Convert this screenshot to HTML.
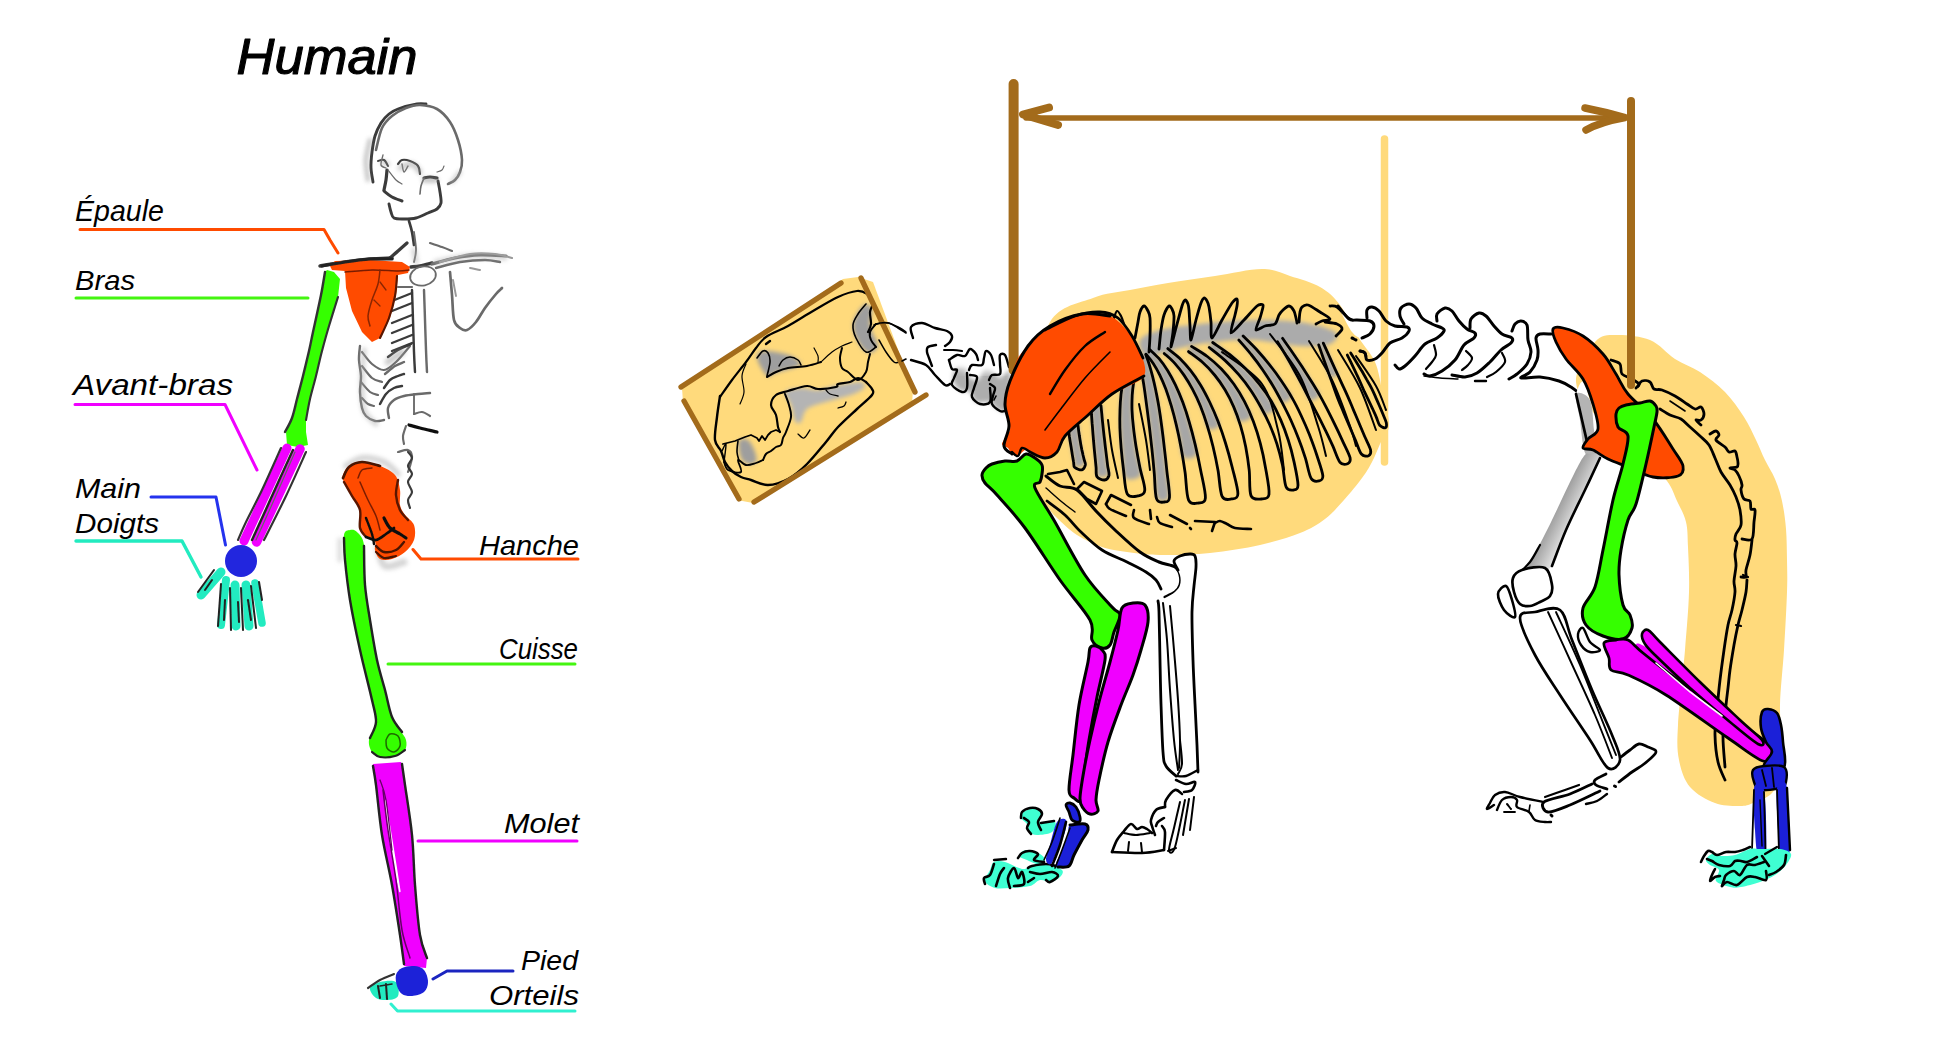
<!DOCTYPE html>
<html lang="fr"><head><meta charset="utf-8"><title>Humain - squelette comparé</title>
<style>
html,body{margin:0;padding:0;background:#fff;overflow:hidden}
svg{display:block}
text{font-family:"Liberation Sans","DejaVu Sans",sans-serif;font-style:italic;fill:#000}
</style></head><body>
<svg width="1937" height="1058" viewBox="0 0 1937 1058">
<defs>
<filter id="b1" x="-20%" y="-20%" width="140%" height="140%"><feGaussianBlur stdDeviation="0.7"/></filter>
<filter id="b2" x="-20%" y="-20%" width="140%" height="140%"><feGaussianBlur stdDeviation="2.2"/></filter>
<filter id="b3" x="-20%" y="-20%" width="140%" height="140%"><feGaussianBlur stdDeviation="4"/></filter>
<linearGradient id="gfem" gradientUnits="userSpaceOnUse" x1="1549" y1="508" x2="1573" y2="520"><stop offset="0" stop-color="#8a8a8a"/><stop offset="0.5" stop-color="#b2b2b2"/><stop offset="1" stop-color="#dedede"/></linearGradient>
</defs>
<rect width="1937" height="1058" fill="#fff"/>
<g id="animal">
<path d="M1050 322C1060.2 305 1079.7 303.3 1093 298C1106.3 292.7 1117.5 292.5 1130 290C1142.5 287.5 1153.8 285.3 1168 283C1182.2 280.7 1199.3 278.3 1215 276C1230.7 273.7 1249.5 269 1262 269C1274.5 269 1280.3 273 1290 276C1299.7 279 1311.7 282.2 1320 287C1328.3 291.8 1333.5 296.5 1340 305C1346.5 313.5 1353.2 328.5 1359 338C1364.8 347.5 1371.2 353.3 1375 362C1378.8 370.7 1379.7 379.5 1382 390C1384.3 400.5 1389.3 416 1389 425C1388.7 434 1382.8 437.8 1380 444C1377.2 450.2 1375 456.3 1372 462C1369 467.7 1366.7 471.7 1362 478C1357.3 484.3 1350.2 493.2 1344 500C1337.8 506.8 1332.3 513.5 1325 519C1317.7 524.5 1310.8 528.7 1300 533C1289.2 537.3 1275 541.7 1260 545C1245 548.3 1226.7 551.3 1210 553C1193.3 554.7 1173.8 555.2 1160 555C1146.2 554.8 1136.7 553.3 1127 552C1117.3 550.7 1110.3 549.8 1102 547C1093.7 544.2 1084.7 540 1077 535C1069.3 530 1061.2 522 1056 517C1050.8 512 1049.3 509.5 1046 505C1042.7 500.5 1038.2 495.8 1036 490C1033.8 484.2 1033.7 485 1033 470C1032.3 455 1029.2 424.7 1032 400C1034.8 375.3 1039.8 339 1050 322Z" fill="#FFDA7C" stroke="none" stroke-width="0" stroke-linejoin="round" />
<path d="M1384.5 139 L1384.5 462" stroke="#FFDA7C" stroke-width="7.5" stroke-linecap="round" fill="none"/>
<path d="M682 388L843 279L858 277L873 282L913 390L912 404L753 503L737 500L683 402Z" fill="#FFDA7C" stroke="none" stroke-width="0" stroke-linejoin="round" />
<path d="M1576 382C1575.2 369 1588.3 349.8 1595 342C1601.7 334.2 1606.8 335.3 1616 335C1625.2 334.7 1640.2 336 1650 340C1659.8 344 1666.7 353.7 1675 359C1683.3 364.3 1691.7 366.5 1700 372C1708.3 377.5 1717.7 384.5 1725 392C1732.3 399.5 1738.8 409 1744 417C1749.2 425 1752.5 432.8 1756 440C1759.5 447.2 1761.8 453.5 1765 460C1768.2 466.5 1772.2 472.2 1775 479C1777.8 485.8 1780.2 492.7 1782 501C1783.8 509.3 1785.2 519.2 1786 529C1786.8 538.8 1786.8 549.5 1787 560C1787.2 570.5 1787.5 577 1787 592C1786.5 607 1785.2 631.2 1784 650C1782.8 668.8 1780.3 690 1780 705C1779.7 720 1781.5 729.2 1782 740C1782.5 750.8 1784.7 761.2 1783 770C1781.3 778.8 1777 787.5 1772 793C1767 798.5 1758.3 800.8 1753 803C1747.7 805.2 1746.3 806 1740 806C1733.7 806 1723.3 806.2 1715 803C1706.7 799.8 1696 794.2 1690 787C1684 779.8 1681 770.3 1679 760C1677 749.7 1677 743.3 1678 725C1679 706.7 1683.2 672.2 1685 650C1686.8 627.8 1688.5 609.2 1689 592C1689.5 574.8 1688.5 558.7 1688 547C1687.5 535.3 1687.8 529.7 1686 522C1684.2 514.3 1680.2 507.8 1677 501C1673.8 494.2 1673.2 489.5 1667 481C1660.8 472.5 1651.2 460.2 1640 450C1628.8 439.8 1610.7 431.3 1600 420C1589.3 408.7 1576.8 395 1576 382Z" fill="#FFDA7C" stroke="none" stroke-width="0" stroke-linejoin="round" />
<g filter="url(#b2)">
<path d="M757 358C756.5 353.8 758.7 351.5 764 351C769.3 350.5 782.8 352.8 789 355C795.2 357.2 800.8 361.7 801 364C801.2 366.3 794.3 367.5 790 369C785.7 370.5 778.8 371.8 775 373C771.2 374.2 770 378.5 767 376C764 373.5 757.5 362.2 757 358Z" fill="#9E9E9E" stroke="none" stroke-width="0" stroke-linejoin="round" />
<path d="M866 304C868.3 303.7 871.3 307 872 310C872.7 313 870 318.3 870 322C870 325.7 870.7 328 872 332C873.3 336 878.7 342.5 878 346C877.3 349.5 871.5 354 868 353C864.5 352 859.5 344.7 857 340C854.5 335.3 852.8 329.7 853 325C853.2 320.3 855.8 315.5 858 312C860.2 308.5 863.7 304.3 866 304Z" fill="#9E9E9E" stroke="none" stroke-width="0" stroke-linejoin="round" />
<path d="M785 392C786.7 389.2 795.5 388.3 801 388C806.5 387.7 811.8 390.5 818 390C824.2 389.5 830.8 386.3 838 385C845.2 383.7 856.7 381.5 861 382C865.3 382.5 865.7 385.8 864 388C862.3 390.2 857.3 392.7 851 395C844.7 397.3 833.3 399.7 826 402C818.7 404.3 811.2 405.7 807 409C802.8 412.3 803 420 801 422C799 424 796.7 423.8 795 421C793.3 418.2 792.7 409.8 791 405C789.3 400.2 783.3 394.8 785 392Z" fill="#B4B4B4" stroke="none" stroke-width="0" stroke-linejoin="round" />
<path d="M739 441C740.2 438 745.3 438.2 748 440C750.7 441.8 753.7 448.3 755 452C756.3 455.7 757.2 460 756 462C754.8 464 750.5 464.7 748 464C745.5 463.3 742.5 461.8 741 458C739.5 454.2 737.8 444 739 441Z" fill="#9E9E9E" stroke="none" stroke-width="0" stroke-linejoin="round" />
</g>
<path d="M720 397C722 394.2 727.7 385.8 732 380C736.3 374.2 742 367.3 746 362C750 356.7 752.7 352.2 756 348C759.3 343.8 760.7 340.7 766 337C771.3 333.3 780.2 330.3 788 326C795.8 321.7 804.7 315.8 813 311C821.3 306.2 830.7 300.3 838 297C845.3 293.7 852.2 291.5 857 291C861.8 290.5 864.3 292.2 867 294C869.7 295.8 872.5 299 873 302C873.5 305 870.3 308.3 870 312C869.7 315.7 871.3 320.7 871 324C870.7 327.3 868.5 330.7 868 332" fill="none" stroke="#000" stroke-width="2.2" stroke-linecap="round" stroke-linejoin="round" />
<path d="M876 324C875 325.3 870.8 329.3 870 332C869.2 334.7 870 337.5 871 340C872 342.5 875.2 345.8 876 347" fill="none" stroke="#000" stroke-width="2" stroke-linecap="round" stroke-linejoin="round" />
<path d="M866 304C864.7 305.7 860.2 310.5 858 314C855.8 317.5 853.3 321 853 325C852.7 329 853.8 333.5 856 338C858.2 342.5 862.7 350.5 866 352C869.3 353.5 874.3 347.8 876 347" fill="none" stroke="#000" stroke-width="1.6" stroke-linecap="round" stroke-linejoin="round" />
<path d="M876 324C878 323.8 884 322.3 888 323C892 323.7 897 326.5 900 328C903 329.5 905 331.3 906 332" fill="none" stroke="#000" stroke-width="1.5" stroke-linecap="round" stroke-linejoin="round" />
<path d="M879 340C880.2 342 883.5 348.3 886 352C888.5 355.7 891.7 360.3 894 362C896.3 363.7 899 362 900 362" fill="none" stroke="#000" stroke-width="1.5" stroke-linecap="round" stroke-linejoin="round" />
<path d="M720 396C719.5 399.5 717.8 409.7 717 417C716.2 424.3 714.3 434.3 715 440C715.7 445.7 719.3 447.3 721 451C722.7 454.7 723.2 458.7 725 462C726.8 465.3 729.3 468.5 732 471C734.7 473.5 737.8 475.5 741 477C744.2 478.5 746.5 478.7 751 480C755.5 481.3 761.8 485.2 768 485C774.2 484.8 781.5 482.5 788 479C794.5 475.5 800.7 470.2 807 464C813.3 457.8 820.8 448.2 826 442C831.2 435.8 832.8 432.5 838 427C843.2 421.5 851.3 414.3 857 409C862.7 403.7 869.5 398.3 872 395C874.5 391.7 873 391.2 872 389C871 386.8 867 383.2 866 382" fill="none" stroke="#000" stroke-width="2.4" stroke-linecap="round" stroke-linejoin="round" />
<path d="M866 382C864.7 381.3 860.7 378 858 378C855.3 378 853.3 381 850 382C846.7 383 840.3 383.2 838 384C835.7 384.8 839.3 386.2 836 387C832.7 387.8 822.8 389.2 818 389C813.2 388.8 812 385.7 807 386C802 386.3 793.2 389.5 788 391C782.8 392.5 778.8 392.7 776 395C773.2 397.3 771 401.7 771 405C771 408.3 774.8 411.3 776 415C777.2 418.7 777.3 424.2 778 427C778.7 429.8 779.7 431.2 780 432" fill="none" stroke="#000" stroke-width="2.2" stroke-linecap="round" stroke-linejoin="round" />
<path d="M785 394C785.7 395.8 788 401.2 789 405C790 408.8 791.5 412.5 791 417C790.5 421.5 787.3 428.5 786 432C784.7 435.5 783.8 435.8 783 438C782.2 440.2 782.2 443.5 781 445C779.8 446.5 777.7 446 776 447C774.3 448 772.7 449.8 771 451C769.3 452.2 767.3 452.5 766 454C764.7 455.5 763.5 459 763 460" fill="none" stroke="#000" stroke-width="2" stroke-linecap="round" stroke-linejoin="round" />
<path d="M723 444L735 441L745 437L751 435L757 438L759 441L762 436L765 440L768 435L771 432L776 430L780 432" fill="none" stroke="#000" stroke-width="1.8" stroke-linecap="round" stroke-linejoin="round" />
<path d="M724 462C724.7 463.3 725.2 468.3 728 470C730.8 471.7 739.3 473.7 741 472C742.7 470.3 737.2 461.2 738 460C738.8 458.8 743 464.5 746 465C749 465.5 753.2 463.8 756 463C758.8 462.2 761.8 460.5 763 460" fill="none" stroke="#000" stroke-width="1.8" stroke-linecap="round" stroke-linejoin="round" />
<path d="M738 441C737.8 442.8 736.8 448.7 737 452C737.2 455.3 738.7 459.5 739 461" fill="none" stroke="#000" stroke-width="1.6" stroke-linecap="round" stroke-linejoin="round" />
<path d="M722 451C722.7 449.8 725.7 442.2 726 444C726.3 445.8 724.3 459 724 462" fill="none" stroke="#000" stroke-width="1.4" stroke-linecap="round" stroke-linejoin="round" />
<path d="M767 377C768.5 376.2 772.5 373.5 776 372C779.5 370.5 782.8 369 788 368C793.2 367 801.5 367 807 366C812.5 365 818.7 362.7 821 362" fill="none" stroke="#000" stroke-width="2" stroke-linecap="round" stroke-linejoin="round" />
<path d="M757 358C758 356.8 761.2 351.8 763 351C764.8 350.2 766.8 351.2 768 353C769.2 354.8 770.2 358.2 770 362C769.8 365.8 767.5 373.7 767 376" fill="none" stroke="#000" stroke-width="1.6" stroke-linecap="round" stroke-linejoin="round" />
<path d="M779 366C779.7 365 781.2 361.5 783 360C784.8 358.5 787.5 357 790 357C792.5 357 796.2 358.7 798 360C799.8 361.3 800.5 364.2 801 365" fill="none" stroke="#000" stroke-width="1.5" stroke-linecap="round" stroke-linejoin="round" />
<path d="M766 344C766.7 343.5 769.3 341.5 770 341" fill="none" stroke="#000" stroke-width="2.4" stroke-linecap="round" stroke-linejoin="round" />
<path d="M821 362C822.8 360.3 828.5 354.7 832 352C835.5 349.3 838.7 347.7 842 346C845.3 344.3 850.3 342.7 852 342" fill="none" stroke="#000" stroke-width="1.2" stroke-linecap="round" stroke-linejoin="round" />
<path d="M842 348C841.7 349.7 840 354.7 840 358C840 361.3 840.7 365.7 842 368C843.3 370.3 845.3 370 848 372C850.7 374 855 380 858 380C861 380 864.3 375 866 372C867.7 369 867.3 365 868 362C868.7 359 869.7 355.3 870 354" fill="none" stroke="#000" stroke-width="2" stroke-linecap="round" stroke-linejoin="round" />
<path d="M814 348C814.7 349.3 817.3 353.7 818 356C818.7 358.3 818 361 818 362" fill="none" stroke="#000" stroke-width="1.2" stroke-linecap="round" stroke-linejoin="round" />
<path d="M746 364C745.3 366 742.3 371.3 742 376C741.7 380.7 744.3 387.3 744 392C743.7 396.7 740.7 402 740 404" fill="none" stroke="#000" stroke-width="1.2" stroke-linecap="round" stroke-linejoin="round" />
<path d="M826 390C826.7 390.7 828 393 830 394C832 395 836.7 395.7 838 396" fill="none" stroke="#000" stroke-width="1.3" stroke-linecap="round" stroke-linejoin="round" />
<path d="M838 408C839 407.7 842.7 407 844 406C845.3 405 845.7 402.7 846 402" fill="none" stroke="#000" stroke-width="1.3" stroke-linecap="round" stroke-linejoin="round" />
<path d="M798 434C799 434.7 802 438.7 804 438C806 437.3 809 431.3 810 430" fill="none" stroke="#000" stroke-width="1.3" stroke-linecap="round" stroke-linejoin="round" />
<line x1="681" y1="387" x2="841" y2="283" stroke="#A36B1B" stroke-width="5.3" stroke-linecap="round"/>
<line x1="861" y1="278" x2="915" y2="392" stroke="#A36B1B" stroke-width="5.3" stroke-linecap="round"/>
<line x1="754" y1="502" x2="926" y2="395" stroke="#A36B1B" stroke-width="5.3" stroke-linecap="round"/>
<line x1="684" y1="401" x2="739" y2="499" stroke="#A36B1B" stroke-width="5.3" stroke-linecap="round"/>
<g filter="url(#b2)">
<path d="M956 368C958.2 365.7 964 364.7 966 366C968 367.3 966 373.7 968 376C970 378.3 975 381.7 978 380C981 378.3 983.3 367.3 986 366C988.7 364.7 991.7 370 994 372C996.3 374 997.3 378 1000 378C1002.7 378 1008.7 366.7 1010 372C1011.3 377.3 1010.3 404 1008 410C1005.7 416 999 409.3 996 408C993 406.7 993.3 403 990 402C986.7 401 979.3 403.7 976 402C972.7 400.3 972.7 394 970 392C967.3 390 962.8 392 960 390C957.2 388 953.7 383.7 953 380C952.3 376.3 953.8 370.3 956 368Z" fill="#ADADAD" stroke="none" stroke-width="0" stroke-linejoin="round" />
</g>
<g filter="url(#b3)">
<path d="M958 358C965 356.3 993 355.7 1000 358C1007 360.3 1007 370.3 1000 372C993 373.7 965 370.3 958 368C951 365.7 951 359.7 958 358Z" fill="#fff" stroke="none" stroke-width="0" stroke-linejoin="round" />
</g>
<path d="M874 325C875 324.7 877.5 323.3 880 323C882.5 322.7 886 322.2 889 323C892 323.8 895.2 326.3 898 328C900.8 329.7 904.7 332.2 906 333" fill="none" stroke="#000" stroke-width="1.6" stroke-linecap="round" stroke-linejoin="round" />
<path d="M913 338C912.7 336.2 909.5 329.5 911 327C912.5 324.5 918 322.8 922 323C926 323.2 930.8 326.7 935 328C939.2 329.3 944.2 329.7 947 331C949.8 332.3 951.5 334.2 952 336C952.5 337.8 951.2 340.3 950 342C948.8 343.7 945.8 345.3 945 346" fill="none" stroke="#000" stroke-width="2.4" stroke-linecap="round" stroke-linejoin="round" />
<path d="M944 350C945.5 350 950 349.8 953 350C956 350.2 960.5 350.8 962 351" fill="none" stroke="#000" stroke-width="2" stroke-linecap="round" stroke-linejoin="round" />
<path d="M911 360C913.5 360.8 922 362.5 926 365C930 367.5 931.8 371.7 935 375C938.2 378.3 942.5 383.5 945 385C947.5 386.5 949.2 384.2 950 384" fill="none" stroke="#000" stroke-width="2.4" stroke-linecap="round" stroke-linejoin="round" />
<path d="M936 345C934.7 345.3 929.5 345.8 928 347C926.5 348.2 926.8 350.2 927 352C927.2 353.8 928.2 355.7 929 358C929.8 360.3 931.5 364.7 932 366" fill="none" stroke="#000" stroke-width="2.4" stroke-linecap="round" stroke-linejoin="round" />
<path d="M902 361C902.7 360.7 905.3 359.3 906 359" fill="none" stroke="#000" stroke-width="1.6" stroke-linecap="round" stroke-linejoin="round" />
<path d="M949 360C950.3 359.2 954.3 355.7 957 355C959.7 354.3 962.8 357 965 356C967.2 355 968.2 349.3 970 349C971.8 348.7 974.7 352.2 976 354C977.3 355.8 977.7 359 978 360" fill="none" stroke="#000" stroke-width="2.4" stroke-linecap="round" stroke-linejoin="round" />
<path d="M949 360C949.5 361.5 950.7 367.3 952 369C953.3 370.7 956.7 368.5 957 370C957.3 371.5 954.8 375.5 954 378C953.2 380.5 950.7 382.7 952 385C953.3 387.3 959.5 391.5 962 392C964.5 392.5 966.2 391.2 967 388C967.8 384.8 967 375.5 967 373" fill="none" stroke="#000" stroke-width="2.4" stroke-linecap="round" stroke-linejoin="round" />
<path d="M969 370C969.5 369.2 969.8 365.8 972 365C974.2 364.2 980 366.2 982 365C984 363.8 983.3 360.3 984 358C984.7 355.7 984.8 351.5 986 351C987.2 350.5 989.7 352.7 991 355C992.3 357.3 993.5 363.3 994 365" fill="none" stroke="#000" stroke-width="2.4" stroke-linecap="round" stroke-linejoin="round" />
<path d="M970 375C971.2 375.3 976.3 374.8 977 377C977.7 379.2 974.8 384.7 974 388C973.2 391.3 971 394.3 972 397C973 399.7 977 403.2 980 404C983 404.8 988.3 404.7 990 402C991.7 399.3 990 390.3 990 388" fill="none" stroke="#000" stroke-width="2.4" stroke-linecap="round" stroke-linejoin="round" />
<path d="M989 380C989.5 379.2 990.2 376 992 375C993.8 374 998.7 375.8 1000 374C1001.3 372.2 1000 367.2 1000 364C1000 360.8 999.2 356.5 1000 355C1000.8 353.5 1003.5 353 1005 355C1006.5 357 1008.3 365 1009 367" fill="none" stroke="#000" stroke-width="2.4" stroke-linecap="round" stroke-linejoin="round" />
<path d="M990 384C990.8 384.7 994.5 386 995 388C995.5 390 993.5 393.3 993 396C992.5 398.7 990.8 401.5 992 404C993.2 406.5 997.8 409.8 1000 411C1002.2 412.2 1004.2 411 1005 411" fill="none" stroke="#000" stroke-width="2.4" stroke-linecap="round" stroke-linejoin="round" />
<path d="M996 396C995.7 396.7 994.3 399.3 994 400" fill="none" stroke="#000" stroke-width="1.6" stroke-linecap="round" stroke-linejoin="round" />
<g filter="url(#b2)">
<path d="M1067.5 426.7C1065.9 427.8 1068.1 430 1068.3 431.7C1068.6 433.4 1068.9 435.1 1069.2 436.8C1069.5 438.5 1069.8 440.1 1070.1 441.8C1070.4 443.5 1070.8 445.2 1071.1 446.9C1071.4 448.5 1071.7 450.2 1072 451.9C1072.3 453.6 1072.7 455.3 1073 457C1073.3 458.7 1073.7 460.3 1074.1 462C1074.4 463.7 1073.4 466.6 1075.2 467.1C1077 467.6 1083.4 466.1 1084.8 464.9C1086.3 463.7 1084.1 461.6 1083.8 460C1083.4 458.3 1083.1 456.7 1082.8 455C1082.4 453.4 1082.1 451.7 1081.8 450.1C1081.5 448.4 1081.2 446.8 1080.9 445.1C1080.7 443.5 1080.4 441.8 1080.2 440.2C1080 438.5 1079.8 436.9 1079.6 435.2C1079.4 433.6 1079.2 431.9 1079 430.3C1078.8 428.6 1080.4 425.9 1078.5 425.3C1076.6 424.7 1069.2 425.6 1067.5 426.7Z" fill="#A6A6A6" stroke="none" stroke-width="0" stroke-linejoin="round" />
<path d="M1090.5 406.4C1088.8 407.9 1090.9 412 1091.2 414.8C1091.4 417.6 1091.6 420.4 1091.9 423.2C1092.1 426.1 1092.4 428.9 1092.7 431.8C1093 434.7 1093.2 437.6 1093.5 440.5C1093.8 443.5 1094.1 446.4 1094.5 449.4C1094.8 452.4 1095.1 455.3 1095.5 458.4C1095.8 461.4 1096.2 464.4 1096.5 467.4C1096.9 470.5 1095.7 475.3 1097.6 476.7C1099.6 478 1106.8 477.1 1108.4 475.3C1110 473.6 1107.6 469.2 1107.3 466.2C1107 463.2 1106.6 460.1 1106.3 457.1C1106 454.2 1105.7 451.2 1105.4 448.2C1105 445.3 1104.8 442.4 1104.5 439.5C1104.2 436.5 1103.9 433.7 1103.6 430.8C1103.4 427.9 1103.1 425.1 1102.9 422.3C1102.6 419.4 1102.4 416.6 1102.1 413.9C1101.9 411.1 1103.4 406.8 1101.5 405.6C1099.5 404.3 1092.2 404.9 1090.5 406.4Z" fill="#A6A6A6" stroke="none" stroke-width="0" stroke-linejoin="round" />
<path d="M1131.8 359.3C1129.7 359.9 1128.5 364.9 1127.1 368.1C1125.7 371.3 1124.6 374.8 1123.6 378.6C1122.7 382.4 1121.9 386.5 1121.3 390.8C1120.7 395.2 1120.4 399.8 1120.1 404.8C1119.9 409.7 1119.8 414.9 1119.9 420.4C1120 425.9 1120.2 431.7 1120.7 437.8C1121.1 443.9 1121.7 450.3 1122.5 457C1123.3 463.7 1122.4 474.9 1125.4 478C1128.4 481 1138.8 479.1 1140.7 475.2C1142.6 471.4 1138 461.4 1136.9 455C1135.8 448.5 1134.9 442.3 1134.2 436.5C1133.5 430.6 1132.9 425.1 1132.5 419.9C1132.2 414.6 1132 409.7 1132 405.1C1132 400.4 1132.2 396.1 1132.6 392.1C1133 388.1 1133.5 384.4 1134.2 381.1C1134.9 377.7 1135.8 374.7 1136.8 371.9C1137.7 369.2 1141 366.8 1140.2 364.7C1139.3 362.6 1134 358.7 1131.8 359.3Z" fill="#A6A6A6" stroke="none" stroke-width="0" stroke-linejoin="round" />
<path d="M1137.8 357.4C1136.9 359.5 1139.4 363.2 1140.2 366.7C1141 370.1 1141.8 374 1142.5 378.3C1143.3 382.6 1144.1 387.3 1144.8 392.4C1145.6 397.5 1146.3 403 1147.1 408.9C1147.9 414.8 1148.8 421 1149.7 427.7C1150.5 434.4 1151.4 441.4 1152.2 448.9C1153.1 456.4 1153.9 464.2 1154.7 472.5C1155.6 480.8 1154.8 494.3 1157.2 498.5C1159.5 502.7 1167.3 502 1168.8 497.5C1170.4 493 1167.3 479.7 1166.5 471.4C1165.7 463 1164.8 455.1 1164 447.6C1163.2 440.1 1162.4 432.9 1161.5 426.2C1160.7 419.4 1159.9 413.1 1158.9 407.1C1158 401.2 1156.9 395.6 1155.9 390.5C1154.8 385.3 1153.8 380.6 1152.7 376.2C1151.6 371.8 1150.6 367.8 1149.5 364.2C1148.4 360.6 1148.1 355.7 1146.2 354.6C1144.2 353.4 1138.8 355.4 1137.8 357.4Z" fill="#A6A6A6" stroke="none" stroke-width="0" stroke-linejoin="round" />
<path d="M1145.8 354.4C1146 356.4 1149.7 358.8 1151.5 361.4C1153.4 364 1155.2 366.8 1157 370C1158.7 373.1 1160.4 376.5 1162.1 380.2C1163.7 383.9 1165.3 387.9 1166.9 392.2C1168.4 396.5 1169.8 401.1 1171.3 405.9C1172.8 410.7 1174.2 415.8 1175.6 421.2C1177 426.7 1178.3 432.3 1179.6 438.3C1180.9 444.3 1180.3 454.5 1183.2 457.2C1186.1 459.9 1195.4 458.2 1196.9 454.5C1198.5 450.9 1194.1 441.5 1192.6 435.3C1191 429.2 1189.5 423.4 1187.8 417.9C1186.2 412.3 1184.5 407.1 1182.7 402.1C1180.9 397.1 1178.9 392.5 1177 388.1C1175 383.7 1173 379.6 1170.9 375.8C1168.8 372 1166.6 368.5 1164.4 365.3C1162.2 362.1 1159.9 359.2 1157.5 356.5C1155.1 353.9 1152.2 349.9 1150.2 349.6C1148.3 349.2 1145.6 352.5 1145.8 354.4Z" fill="#A6A6A6" stroke="none" stroke-width="0" stroke-linejoin="round" />
<path d="M1164 353.7C1164.5 355.5 1168.7 357.5 1170.9 359.7C1173.1 361.8 1175.2 364.1 1177.3 366.6C1179.4 369.1 1181.5 371.8 1183.5 374.6C1185.4 377.4 1187.4 380.3 1189.2 383.5C1191.1 386.6 1192.9 389.9 1194.6 393.4C1196.4 396.8 1198.1 400.5 1199.7 404.3C1201.3 408.1 1202.8 412 1204.3 416.2C1205.8 420.3 1206.1 427.5 1208.6 429.1C1211.1 430.7 1218.4 428.3 1219.3 425.5C1220.3 422.7 1216 416.6 1214.2 412.3C1212.4 408.1 1210.6 404.1 1208.7 400.2C1206.8 396.3 1204.9 392.5 1202.9 389C1200.9 385.4 1198.8 382 1196.7 378.8C1194.5 375.6 1192.3 372.5 1190.1 369.6C1187.8 366.7 1185.5 364 1183.1 361.5C1180.7 359 1178.2 356.6 1175.7 354.4C1173.2 352.2 1169.9 348.5 1168 348.3C1166 348.2 1163.6 351.8 1164 353.7Z" fill="#A6A6A6" stroke="none" stroke-width="0" stroke-linejoin="round" />
<path d="M1188.3 351.8C1189.2 353.8 1194.2 355.8 1197 358C1199.7 360.1 1202.4 362.4 1204.9 364.8C1207.5 367.2 1209.9 369.7 1212.2 372.4C1214.6 375.1 1216.8 377.8 1218.9 380.7C1221 383.6 1223 386.6 1224.9 389.8C1226.8 392.9 1228.6 396.2 1230.3 399.6C1232 403 1233.6 406.5 1235.1 410.2C1236.7 413.8 1236.7 420.4 1239.4 421.5C1242.1 422.7 1250.3 419.8 1251.5 417.1C1252.6 414.4 1248.1 409 1246.3 405.2C1244.4 401.4 1242.5 397.7 1240.4 394.1C1238.3 390.6 1236.1 387.2 1233.8 384C1231.5 380.7 1229.1 377.6 1226.6 374.6C1224.1 371.7 1221.5 368.9 1218.8 366.2C1216.1 363.5 1213.3 361 1210.3 358.6C1207.4 356.3 1204.4 354 1201.3 351.9C1198.2 349.9 1193.8 346.2 1191.7 346.2C1189.5 346.1 1187.4 349.9 1188.3 351.8Z" fill="#A6A6A6" stroke="none" stroke-width="0" stroke-linejoin="round" />
<path d="M1209.1 347.7C1210 349.8 1215.2 352.3 1218 354.7C1220.9 357 1223.7 359.5 1226.4 362C1229 364.5 1231.6 367.1 1234.1 369.7C1236.6 372.3 1239 375 1241.3 377.8C1243.6 380.5 1245.8 383.4 1247.9 386.3C1250 389.2 1252 392.1 1253.9 395.1C1255.8 398.2 1257.6 401.3 1259.4 404.4C1261.2 407.5 1262 413.2 1264.6 413.9C1267.3 414.6 1274.4 411 1275.2 408.4C1276 405.8 1271.6 401.6 1269.5 398.3C1267.5 395.1 1265.3 392 1263 388.9C1260.8 385.8 1258.4 382.8 1256 379.9C1253.6 377 1251 374.2 1248.4 371.4C1245.8 368.7 1243.1 366 1240.3 363.4C1237.5 360.8 1234.6 358.3 1231.7 355.9C1228.7 353.5 1225.7 351.1 1222.5 348.8C1219.4 346.6 1215.1 342.5 1212.9 342.3C1210.6 342.1 1208.3 345.7 1209.1 347.7Z" fill="#A6A6A6" stroke="none" stroke-width="0" stroke-linejoin="round" />
<path d="M1238.7 340.3C1238.9 342.3 1242.9 345 1245 347.4C1247.1 349.7 1249.1 352.1 1251.1 354.6C1253.1 357.1 1255 359.5 1256.9 362.1C1258.8 364.6 1260.7 367.2 1262.5 369.7C1264.3 372.3 1266 375 1267.8 377.6C1269.5 380.3 1271.2 383 1272.8 385.8C1274.5 388.5 1276.1 391.3 1277.6 394.1C1279.2 396.9 1279.8 402.1 1282.2 402.6C1284.5 403.2 1291.1 399.7 1291.8 397.4C1292.6 395 1288.4 391.6 1286.6 388.8C1284.8 385.9 1283 383.2 1281.2 380.4C1279.3 377.7 1277.4 375 1275.5 372.3C1273.5 369.7 1271.6 367.1 1269.5 364.5C1267.5 361.9 1265.5 359.4 1263.3 356.9C1261.2 354.4 1259.1 352 1256.9 349.6C1254.7 347.2 1252.5 344.8 1250.3 342.5C1248 340.2 1245.3 336 1243.3 335.7C1241.4 335.3 1238.4 338.4 1238.7 340.3Z" fill="#A6A6A6" stroke="none" stroke-width="0" stroke-linejoin="round" />
<path d="M1277.3 341.8C1277.1 343.6 1280.2 346.6 1281.7 349C1283.1 351.4 1284.5 353.8 1286 356.2C1287.4 358.6 1288.8 361 1290.2 363.5C1291.6 365.9 1293 368.3 1294.4 370.8C1295.7 373.2 1297.1 375.7 1298.4 378.1C1299.8 380.6 1301.1 383.1 1302.4 385.6C1303.7 388.1 1305 390.6 1306.3 393.1C1307.6 395.6 1307.9 400.2 1310.2 400.6C1312.4 401 1319 397.5 1319.8 395.4C1320.7 393.3 1316.9 390.4 1315.5 388C1314 385.5 1312.5 383.1 1311 380.7C1309.5 378.2 1308 375.8 1306.5 373.4C1305 371 1303.4 368.6 1301.9 366.2C1300.3 363.8 1298.8 361.5 1297.2 359.1C1295.6 356.7 1294.1 354.4 1292.5 352.1C1290.9 349.7 1289.3 347.4 1287.6 345.1C1286 342.8 1284.5 338.7 1282.7 338.2C1281 337.6 1277.4 340 1277.3 341.8Z" fill="#A6A6A6" stroke="none" stroke-width="0" stroke-linejoin="round" />
<path d="M1318.4 345C1317.8 346 1319.4 347.8 1319.9 349.1C1320.4 350.5 1320.9 351.9 1321.4 353.2C1321.9 354.6 1322.4 356 1322.8 357.4C1323.3 358.7 1323.8 360.1 1324.3 361.5C1324.8 362.9 1325.3 364.2 1325.8 365.6C1326.3 367 1326.8 368.3 1327.3 369.7C1327.8 371.1 1328.3 372.5 1328.8 373.8C1329.3 375.2 1328.8 377.8 1330.3 378C1331.8 378.1 1336.9 376 1337.9 374.8C1338.8 373.7 1336.7 372.2 1336.1 370.9C1335.5 369.5 1334.9 368.2 1334.3 366.9C1333.7 365.6 1333.1 364.2 1332.5 362.9C1331.9 361.6 1331.3 360.2 1330.7 358.9C1330.1 357.6 1329.5 356.3 1328.9 354.9C1328.3 353.6 1327.7 352.3 1327.1 351C1326.5 349.6 1325.9 348.3 1325.3 347C1324.7 345.6 1324.7 343.3 1323.6 343C1322.4 342.7 1319.1 344 1318.4 345Z" fill="#A6A6A6" stroke="none" stroke-width="0" stroke-linejoin="round" />
</g>
<g filter="url(#b2)">
<path d="M1140 340C1142.5 335.7 1150 332.7 1160 330C1170 327.3 1185 325.7 1200 324C1215 322.3 1233.3 320.3 1250 320C1266.7 319.7 1285.8 320 1300 322C1314.2 324 1330 328.3 1335 332C1340 335.7 1335.8 341.7 1330 344C1324.2 346.3 1313.3 346.7 1300 346C1286.7 345.3 1266.7 340.3 1250 340C1233.3 339.7 1214.2 342 1200 344C1185.8 346 1174.2 350 1165 352C1155.8 354 1149.2 358 1145 356C1140.8 354 1137.5 344.3 1140 340Z" fill="#ABABAB" stroke="none" stroke-width="0" stroke-linejoin="round" />
</g>
<path d="M1068 426.6C1068.1 427.5 1068.5 430 1068.7 431.7C1068.9 433.4 1069.2 435.1 1069.4 436.7C1069.7 438.4 1069.9 440.1 1070.2 441.8C1070.5 443.5 1070.8 445.2 1071.1 446.9C1071.3 448.6 1071.6 450.2 1071.9 451.9C1072.1 453.6 1072.4 455.3 1072.7 457C1073 458.7 1073.3 460.4 1073.6 462.1C1074 463.8 1073.3 465.9 1074.6 467.2C1076 468.5 1080.1 470.3 1081.9 469.9C1083.7 469.5 1085 466.5 1085.4 464.8C1085.7 463.1 1084.6 461.5 1084.2 459.9C1083.8 458.2 1083.4 456.6 1083 455C1082.7 453.3 1082.3 451.7 1081.9 450.1C1081.6 448.4 1081.2 446.8 1080.9 445.1C1080.6 443.5 1080.4 441.8 1080.1 440.2C1079.8 438.6 1079.6 436.9 1079.3 435.3C1079.1 433.6 1078.8 432 1078.6 430.3C1078.4 428.7 1078.1 426.2 1078 425.4" fill="none" stroke="#000" stroke-width="2.8" stroke-linecap="round" stroke-linejoin="round"/>
<path d="M1091 406.4C1091.1 407.8 1091.4 411.9 1091.5 414.7C1091.7 417.5 1091.9 420.4 1092.1 423.2C1092.4 426.1 1092.6 428.9 1092.8 431.8C1093 434.7 1093.3 437.6 1093.5 440.5C1093.8 443.5 1094 446.4 1094.3 449.4C1094.6 452.4 1094.9 455.4 1095.2 458.4C1095.5 461.4 1095.8 464.4 1096.1 467.5C1096.4 470.5 1095.6 474.6 1097 476.7C1098.4 478.8 1102.5 480.2 1104.5 480C1106.5 479.7 1108.4 477.6 1109 475.3C1109.5 473 1108.1 469.2 1107.7 466.1C1107.3 463.1 1107 460.1 1106.6 457.1C1106.2 454.1 1105.9 451.2 1105.5 448.2C1105.1 445.3 1104.8 442.4 1104.5 439.5C1104.1 436.6 1103.8 433.7 1103.5 430.8C1103.2 427.9 1102.9 425.1 1102.6 422.3C1102.3 419.5 1102 416.7 1101.8 413.9C1101.5 411.1 1101.1 407 1101 405.6" fill="none" stroke="#000" stroke-width="2.8" stroke-linecap="round" stroke-linejoin="round"/>
<path d="M1132.2 359.6C1131.4 361.1 1128.5 365.6 1127.1 369.1C1125.6 372.6 1124.4 376.5 1123.4 380.7C1122.4 384.9 1121.6 389.4 1121 394.3C1120.5 399.2 1120.2 404.4 1120 410C1119.8 415.6 1119.7 421.5 1119.9 427.8C1120.1 434 1120.5 440.7 1121.1 447.7C1121.7 454.6 1122.5 462 1123.5 469.7C1124.5 477.3 1124.8 489.4 1127.2 493.8C1129.6 498.2 1134.9 496.5 1137.8 495.9C1140.7 495.3 1144.5 495 1144.8 490.2C1145.2 485.4 1141.2 474.4 1139.8 467C1138.3 459.6 1137 452.5 1135.9 445.8C1134.9 439.2 1134 432.8 1133.4 426.9C1132.7 420.9 1132.2 415.3 1132 410C1131.8 404.7 1132 399.8 1132.2 395.3C1132.5 390.8 1133 386.6 1133.6 382.8C1134.3 379 1135.2 375.6 1136.2 372.5C1137.2 369.5 1139.2 365.8 1139.8 364.4" fill="none" stroke="#000" stroke-width="2.8" stroke-linecap="round" stroke-linejoin="round"/>
<path d="M1138.2 357.3C1138.6 358.9 1139.7 363.1 1140.5 366.6C1141.2 370.1 1142 374 1142.7 378.3C1143.5 382.6 1144.2 387.3 1144.9 392.4C1145.6 397.5 1146.3 403 1147.1 408.9C1147.8 414.8 1148.7 421 1149.5 427.7C1150.3 434.4 1151.1 441.5 1151.9 448.9C1152.7 456.4 1153.5 464.3 1154.2 472.6C1155 480.8 1154.8 493.7 1156.5 498.6C1158.2 503.5 1162.2 502.2 1164.3 502C1166.5 501.8 1169 502.5 1169.5 497.4C1169.9 492.3 1167.8 479.6 1166.9 471.3C1166.1 463 1165.2 455.1 1164.3 447.6C1163.5 440 1162.6 432.9 1161.7 426.2C1160.8 419.4 1159.9 413.1 1158.9 407.1C1158 401.2 1156.8 395.6 1155.8 390.5C1154.7 385.3 1153.6 380.6 1152.5 376.2C1151.4 371.8 1150.3 367.9 1149.2 364.3C1148.1 360.7 1146.3 356.3 1145.8 354.7" fill="none" stroke="#000" stroke-width="2.8" stroke-linecap="round" stroke-linejoin="round"/>
<path d="M1146 354.2C1147.2 355.7 1150.8 359.8 1153.1 363.2C1155.4 366.7 1157.6 370.5 1159.7 374.8C1161.8 379.1 1163.8 383.8 1165.8 389C1167.7 394.2 1169.5 399.8 1171.3 405.9C1173.1 412 1174.8 418.5 1176.4 425.4C1178.1 432.4 1179.6 439.8 1181 447.6C1182.5 455.5 1183.8 463.8 1185.1 472.5C1186.3 481.3 1186.3 495 1188.6 500.1C1190.8 505.2 1195.7 503.3 1198.5 503C1201.3 502.6 1205.1 503.4 1205.4 497.9C1205.8 492.4 1202.3 478.8 1200.6 469.9C1198.9 461 1197.1 452.6 1195.2 444.6C1193.3 436.7 1191.3 429.1 1189.2 422C1187.2 414.9 1185 408.3 1182.7 402.1C1180.4 395.9 1177.9 390.2 1175.4 384.9C1172.9 379.6 1170.3 374.8 1167.6 370.4C1164.8 366.1 1162 362.1 1159.1 358.7C1156.2 355.3 1151.5 351.3 1150 349.8" fill="none" stroke="#000" stroke-width="2.8" stroke-linecap="round" stroke-linejoin="round"/>
<path d="M1164.2 353.4C1165.9 355 1171.3 359.5 1174.6 363.1C1177.9 366.8 1181 370.7 1184 375.1C1187 379.5 1189.9 384.3 1192.6 389.4C1195.4 394.6 1198 400.1 1200.4 406C1202.8 412 1205 418.3 1207.1 425.1C1209.2 431.8 1211.2 439 1213 446.5C1214.8 454 1216.5 461.9 1218 470.2C1219.5 478.5 1219.8 491.5 1222.1 496.3C1224.4 501.1 1229 499.4 1231.6 498.9C1234.3 498.5 1237.8 499 1237.9 493.7C1238 488.4 1234.2 475.6 1232.2 467.2C1230.1 458.7 1227.9 450.7 1225.5 443C1223.2 435.4 1220.6 428.1 1218 421.3C1215.3 414.4 1212.5 408 1209.6 402C1206.6 395.9 1203.7 390.2 1200.5 385C1197.3 379.7 1194 374.8 1190.5 370.4C1187 365.9 1183.3 361.9 1179.6 358.2C1175.8 354.6 1169.7 350.2 1167.8 348.6" fill="none" stroke="#000" stroke-width="2.8" stroke-linecap="round" stroke-linejoin="round"/>
<path d="M1188.5 351.6C1190.8 353.4 1198.1 358.4 1202.5 362.3C1206.9 366.2 1210.9 370.4 1214.6 375C1218.4 379.6 1221.8 384.5 1225 389.8C1228.1 395 1231 400.6 1233.6 406.6C1236.2 412.6 1238.5 418.9 1240.5 425.6C1242.5 432.2 1244.2 439.3 1245.7 446.7C1247.1 454.1 1248.3 461.9 1249.2 470C1250.1 478.2 1249 490.7 1251 495.6C1253 500.4 1258.3 499.2 1261.3 499C1264.3 498.8 1268.3 499.6 1269 494.4C1269.7 489.2 1267 476.2 1265.5 467.7C1264.1 459.2 1262.4 451.1 1260.3 443.3C1258.3 435.6 1255.9 428.2 1253.3 421.2C1250.6 414.2 1247.7 407.6 1244.4 401.4C1241.2 395.2 1237.6 389.4 1233.8 384C1229.9 378.6 1225.8 373.6 1221.4 369C1216.9 364.4 1212.2 360.2 1207.3 356.5C1202.3 352.7 1194.1 348.1 1191.5 346.4" fill="none" stroke="#000" stroke-width="2.8" stroke-linecap="round" stroke-linejoin="round"/>
<path d="M1209.3 347.5C1211.9 349.6 1220.1 355.9 1225 360.4C1230 365 1234.5 369.7 1238.8 374.7C1243.1 379.7 1247.1 384.8 1250.7 390.2C1254.4 395.6 1257.6 401.2 1260.8 407C1264 412.7 1267 418.6 1269.7 424.7C1272.4 430.9 1274.8 437.3 1276.9 443.9C1279 450.6 1280.8 457.5 1282.4 464.6C1283.9 471.7 1284.2 482.5 1286 486.7C1287.9 491 1291.5 490.2 1293.5 490C1295.5 489.7 1297.9 489.9 1298 485.3C1298.1 480.6 1295.7 469.6 1294.1 462.1C1292.5 454.6 1290.6 447.3 1288.3 440.3C1286.1 433.3 1283.6 426.5 1280.7 419.9C1277.9 413.4 1274.8 407 1271.2 401C1267.6 395 1263.5 389.4 1259.2 384C1254.9 378.6 1250.3 373.4 1245.4 368.6C1240.5 363.7 1235.4 359.1 1229.9 354.7C1224.5 350.4 1215.6 344.6 1212.7 342.5" fill="none" stroke="#000" stroke-width="2.8" stroke-linecap="round" stroke-linejoin="round"/>
<path d="M1238.9 340.1C1240.9 342.5 1247.3 349.5 1251.2 354.5C1255.2 359.4 1259 364.4 1262.6 369.7C1266.2 374.9 1269.6 380.2 1272.9 385.7C1276.2 391.2 1279.2 396.9 1282.2 402.6C1285.2 408.4 1288.2 414.2 1290.9 420.2C1293.6 426.2 1296.2 432.4 1298.6 438.7C1301.1 445 1303.3 451.5 1305.4 458.1C1307.5 464.8 1308.9 474.7 1311.2 478.5C1313.5 482.3 1317.1 481.4 1319 480.9C1320.9 480.4 1323.2 479.9 1322.8 475.5C1322.4 471.1 1318.8 461.4 1316.6 454.5C1314.4 447.7 1311.9 441 1309.4 434.5C1306.8 428 1304 421.7 1301.1 415.5C1298.2 409.3 1295.2 403.2 1291.8 397.4C1288.5 391.5 1284.8 385.9 1281.1 380.5C1277.4 375 1273.5 369.7 1269.4 364.6C1265.4 359.5 1261.1 354.5 1256.8 349.7C1252.4 344.9 1245.4 338.2 1243.1 335.9" fill="none" stroke="#000" stroke-width="2.8" stroke-linecap="round" stroke-linejoin="round"/>
<path d="M1277.5 341.7C1278.9 344.1 1283.3 351.2 1286.2 356.1C1289 360.9 1291.8 365.8 1294.5 370.7C1297.2 375.6 1299.9 380.6 1302.5 385.5C1305.1 390.5 1307.6 395.6 1310.2 400.6C1312.8 405.6 1315.5 410.6 1318.1 415.6C1320.7 420.7 1323.2 425.8 1325.7 430.9C1328.2 436 1330.6 441.2 1333 446.4C1335.3 451.6 1337.5 459.3 1339.9 462.2C1342.4 465 1345.9 464.4 1347.6 463.7C1349.3 463 1350.8 461.5 1350.1 457.8C1349.3 454.2 1345.4 447.1 1343 441.8C1340.6 436.6 1338.1 431.3 1335.6 426.1C1333.1 420.9 1330.5 415.7 1327.9 410.6C1325.2 405.5 1322.7 400.4 1319.8 395.4C1317 390.4 1314 385.6 1311 380.7C1307.9 375.9 1304.9 371.1 1301.8 366.3C1298.7 361.6 1295.5 356.8 1292.3 352.2C1289.1 347.5 1284.1 340.6 1282.5 338.3" fill="none" stroke="#000" stroke-width="2.8" stroke-linecap="round" stroke-linejoin="round"/>
<path d="M1318.7 344.9C1319.5 347.2 1321.9 354.1 1323.5 358.7C1325.1 363.2 1326.8 367.8 1328.4 372.4C1330 377 1331.7 381.6 1333.4 386.2C1335 390.8 1336.6 395.4 1338.4 399.9C1340.2 404.5 1342.2 408.9 1344 413.4C1345.9 417.9 1347.9 422.5 1349.8 427C1351.7 431.5 1353.6 436 1355.6 440.5C1357.5 445 1359.2 451.5 1361.4 454C1363.6 456.5 1367.1 456.3 1368.6 455.7C1370.1 455 1371.2 453.2 1370.6 450C1369.9 446.8 1366.7 441 1364.7 436.5C1362.8 432 1360.9 427.5 1359 423C1357.1 418.5 1355.2 414.1 1353.3 409.6C1351.4 405.1 1349.6 400.5 1347.6 396.1C1345.6 391.6 1343.5 387.2 1341.5 382.8C1339.4 378.4 1337.4 374 1335.3 369.6C1333.3 365.2 1331.3 360.8 1329.3 356.3C1327.3 351.9 1324.3 345.3 1323.3 343.1" fill="none" stroke="#000" stroke-width="2.8" stroke-linecap="round" stroke-linejoin="round"/>
<path d="M1347.3 355C1348 356.6 1350.4 361.3 1351.9 364.4C1353.4 367.5 1354.9 370.6 1356.3 373.7C1357.8 376.7 1359.2 379.8 1360.5 382.8C1361.8 385.8 1363.1 388.8 1364.4 391.7C1365.8 394.7 1367.2 397.5 1368.6 400.3C1370 403.2 1371.3 406 1372.6 408.8C1373.8 411.6 1375.1 414.3 1376.3 417.1C1377.5 419.8 1378.2 423.5 1379.7 425.3C1381.3 427.1 1384.4 428.1 1385.5 427.7C1386.6 427.3 1386.7 425 1386.3 422.7C1385.8 420.5 1384.1 417.1 1383 414.3C1381.8 411.5 1380.7 408.6 1379.4 405.7C1378.2 402.9 1376.9 400 1375.6 397.1C1374.3 394.1 1373.1 391.2 1371.6 388.3C1370.1 385.3 1368.4 382.5 1366.7 379.6C1365.1 376.7 1363.4 373.8 1361.7 370.8C1359.9 367.9 1358.1 365 1356.3 362C1354.5 359 1351.7 354.5 1350.7 353" fill="none" stroke="#000" stroke-width="2.8" stroke-linecap="round" stroke-linejoin="round"/>
<path d="M1108 420C1108.7 425 1110.3 440.3 1112 450C1113.7 459.7 1117 473.3 1118 478" fill="none" stroke="#000" stroke-width="2.0" stroke-linecap="round" stroke-linejoin="round" />
<path d="M1139 404C1140.2 410 1144.2 429 1146 440C1147.8 451 1149.3 465 1150 470" fill="none" stroke="#000" stroke-width="2.0" stroke-linecap="round" stroke-linejoin="round" />
<path d="M1222 352C1228.7 357.3 1252.7 371 1262 384C1271.3 397 1274.3 415.7 1278 430C1281.7 444.3 1283 463.3 1284 470" fill="none" stroke="#000" stroke-width="2.0" stroke-linecap="round" stroke-linejoin="round" />
<path d="M1270 334C1275 341 1292 360.7 1300 376C1308 391.3 1313.7 412.7 1318 426C1322.3 439.3 1324.7 451 1326 456" fill="none" stroke="#000" stroke-width="2.0" stroke-linecap="round" stroke-linejoin="round" />
<path d="M1309 341C1312.8 347.5 1325.2 365.8 1332 380C1338.8 394.2 1346 415 1350 426C1354 437 1355 442.7 1356 446" fill="none" stroke="#000" stroke-width="2.0" stroke-linecap="round" stroke-linejoin="round" />
<path d="M1338 350C1341.7 356.3 1353.7 374.7 1360 388C1366.3 401.3 1373.3 423 1376 430" fill="none" stroke="#000" stroke-width="2.0" stroke-linecap="round" stroke-linejoin="round" />
<path d="M1356 356C1359.3 361 1371 377 1376 386C1381 395 1384.3 406 1386 410" fill="none" stroke="#000" stroke-width="2.0" stroke-linecap="round" stroke-linejoin="round" />
<path d="M1114 318C1114.5 316.8 1115.8 311.3 1117 311C1118.2 310.7 1119.8 313.8 1121 316C1122.2 318.2 1123.5 322.7 1124 324" fill="none" stroke="#000" stroke-width="2.2" stroke-linecap="round" stroke-linejoin="round" />
<path d="M1135 338C1135.5 335.3 1137.2 326.3 1138 322C1138.8 317.7 1139 314.7 1140 312C1141 309.3 1142.7 306.2 1144 306C1145.3 305.8 1147 309 1148 311C1149 313 1149.7 313.8 1150 318C1150.3 322.2 1150.2 330.3 1150 336C1149.8 341.7 1149.2 349.3 1149 352" fill="none" stroke="#000" stroke-width="2.8" stroke-linecap="round" stroke-linejoin="round" />
<path d="M1159 349C1159.3 346.5 1160.3 334.5 1161 330C1161.7 325.5 1162.9 318.2 1164 315C1165.1 311.8 1167.9 306.8 1169 306C1170.1 305.2 1171.3 307.7 1172 309C1172.7 310.3 1173.9 312.9 1174 316C1174.1 319.1 1173.4 327.9 1173 332C1172.6 336.1 1170.6 347.5 1171 347C1171.4 346.5 1174.5 333.5 1176 328C1177.5 322.5 1180.8 309.7 1182 306C1183.2 302.3 1184.2 300.3 1185 300C1185.8 299.7 1187.5 302.7 1188 304C1188.5 305.3 1188.7 307.1 1189 310C1189.3 312.9 1189.7 322 1190 326C1190.3 330 1190.2 340.8 1191 340C1191.8 339.2 1194.7 324.9 1196 320C1197.3 315.1 1199.9 305.9 1201 303C1202.1 300.1 1203.2 298.3 1204 298C1204.8 297.7 1206.3 299.8 1207 301C1207.7 302.2 1208.5 304.2 1209 307C1209.5 309.8 1210.6 317.9 1211 322C1211.4 326.1 1210.5 338.3 1212 338C1213.5 337.7 1219.3 324.7 1222 320C1224.7 315.3 1230 305.8 1232 303C1234 300.2 1236.3 298.6 1237 299C1237.7 299.4 1237.3 303.9 1237 306C1236.7 308.1 1235.8 311.4 1235 315C1234.2 318.6 1229.8 332.3 1231 333C1232.2 333.7 1240.5 323.6 1244 320C1247.5 316.4 1254.5 308 1257 306C1259.5 304 1262.3 304.3 1263 305C1263.7 305.7 1262.4 309.3 1262 311C1261.6 312.7 1260.8 315.5 1260 318C1259.2 320.5 1255.3 328.9 1256 330C1256.7 331.1 1262.5 326.8 1265 326C1267.5 325.2 1273.1 325.5 1275 324C1276.9 322.5 1277.9 316.9 1279 315C1280.1 313.1 1281.7 311.2 1283 310C1284.3 308.8 1287.5 305.9 1289 306C1290.5 306.1 1293.1 309.4 1294 311C1294.9 312.6 1295.6 316.4 1296 318C1296.4 319.6 1296.9 322.3 1297 323" fill="none" stroke="#000" stroke-width="2.8" stroke-linecap="round" stroke-linejoin="round" />
<path d="M1299 322C1299.2 320.3 1299.5 314.5 1300 312C1300.5 309.5 1300.7 308.2 1302 307C1303.3 305.8 1305 304.2 1308 305C1311 305.8 1316.3 309.7 1320 312C1323.7 314.3 1329.7 317.5 1330 319C1330.3 320.5 1324.3 320.2 1322 321C1319.7 321.8 1317 323.5 1316 324" fill="none" stroke="#000" stroke-width="2.8" stroke-linecap="round" stroke-linejoin="round" />
<path d="M1330 306C1331.2 306.2 1334.2 305.2 1337 307C1339.8 308.8 1344.2 314.7 1347 317C1349.8 319.3 1352.8 320.3 1354 321" fill="none" stroke="#000" stroke-width="2.8" stroke-linecap="round" stroke-linejoin="round" />
<path d="M1325 322C1327 322.3 1334.2 322.8 1337 324C1339.8 325.2 1342.2 327 1342 329C1341.8 331 1337 334.8 1336 336" fill="none" stroke="#000" stroke-width="2.8" stroke-linecap="round" stroke-linejoin="round" />
<path d="M1048 474L1060 472L1067 470L1074 484" fill="none" stroke="#000" stroke-width="2.6" stroke-linecap="round" stroke-linejoin="round" />
<path d="M1077 489L1084 482L1102 491L1096 504L1087 499L1077 489" fill="none" stroke="#000" stroke-width="2.6" stroke-linecap="round" stroke-linejoin="round" />
<path d="M1106 504L1111 495L1131 505" fill="none" stroke="#000" stroke-width="2.6" stroke-linecap="round" stroke-linejoin="round" />
<path d="M1106 504C1106.7 504.8 1106.7 507 1110 509C1113.3 511 1123.3 514.8 1126 516" fill="none" stroke="#000" stroke-width="2.6" stroke-linecap="round" stroke-linejoin="round" />
<path d="M1134 510C1134 511.3 1131.5 515.7 1134 518C1136.5 520.3 1146.5 523 1149 524" fill="none" stroke="#000" stroke-width="2.6" stroke-linecap="round" stroke-linejoin="round" />
<path d="M1150 510C1150.2 511.5 1150.8 517.5 1151 519" fill="none" stroke="#000" stroke-width="2.6" stroke-linecap="round" stroke-linejoin="round" />
<path d="M1157 517C1157.5 518 1157.5 521.3 1160 523C1162.5 524.7 1170 526.3 1172 527" fill="none" stroke="#000" stroke-width="2.6" stroke-linecap="round" stroke-linejoin="round" />
<path d="M1170 515C1172.8 516.5 1184.2 522.5 1187 524" fill="none" stroke="#000" stroke-width="2.6" stroke-linecap="round" stroke-linejoin="round" />
<path d="M1190 528C1190.2 528.2 1190.8 528.8 1191 529" fill="none" stroke="#000" stroke-width="2.6" stroke-linecap="round" stroke-linejoin="round" />
<path d="M1195 521L1215 522L1212 531" fill="none" stroke="#000" stroke-width="2.6" stroke-linecap="round" stroke-linejoin="round" />
<path d="M1215 523C1215.8 522.7 1218 520.8 1220 521C1222 521.2 1224.5 522.8 1227 524C1229.5 525.2 1231 527.2 1235 528C1239 528.8 1248.3 528.8 1251 529" fill="none" stroke="#000" stroke-width="2.6" stroke-linecap="round" stroke-linejoin="round" />
<path d="M1046 476C1048.3 477.7 1054.8 483.7 1060 486C1065.2 488.3 1071 485.8 1077 490C1083 494.2 1089.7 504.3 1096 511C1102.3 517.7 1107.7 523.2 1115 530C1122.3 536.8 1132.7 546.7 1140 552C1147.3 557.3 1153.2 559.5 1159 562C1164.8 564.5 1171.5 564.8 1175 567C1178.5 569.2 1179.2 572 1180 575C1180.8 578 1180.8 582.2 1180 585C1179.2 587.8 1177.5 590 1175 592C1172.5 594 1166.7 596.2 1165 597" fill="none" stroke="#000" stroke-width="3" stroke-linecap="round" stroke-linejoin="round" />
<path d="M1047 501C1050 503.3 1059.3 509.8 1065 515C1070.7 520.2 1074.8 526.2 1081 532C1087.2 537.8 1094.3 545 1102 550C1109.7 555 1119.7 558.3 1127 562C1134.3 565.7 1141.2 569 1146 572C1150.8 575 1153.5 577.2 1156 580C1158.5 582.8 1160.2 587.5 1161 589" fill="none" stroke="#000" stroke-width="2.8" stroke-linecap="round" stroke-linejoin="round" />
<path d="M1046 488C1048.7 490.3 1057.2 498 1062 502C1066.8 506 1072.8 510.3 1075 512" fill="none" stroke="#000" stroke-width="1.4" stroke-linecap="round" stroke-linejoin="round" />
<path d="M1340 309C1339.5 306.8 1346.2 317.2 1349 319C1351.8 320.8 1353.5 319.7 1357 320C1360.5 320.3 1367.2 320 1370 321C1372.8 322 1374 323.8 1374 326C1374 328.2 1372 332 1370 334C1368 336 1365 338.3 1362 338C1359 337.7 1355.7 336.8 1352 332C1348.3 327.2 1340.5 311.2 1340 309Z" fill="#fff" stroke="none" stroke-width="0" stroke-linejoin="round" />
<path d="M1338 306C1339.8 308.2 1345.8 316.7 1349 319C1352.2 321.3 1353.5 319.7 1357 320C1360.5 320.3 1367.2 320 1370 321C1372.8 322 1374 323.8 1374 326C1374 328.2 1372 332 1370 334C1368 336 1363.3 337.3 1362 338" fill="none" stroke="#000" stroke-width="3" stroke-linecap="round" stroke-linejoin="round" />
<path d="M1367 318C1367 316.7 1366.2 311.8 1367 310C1367.8 308.2 1370 306.8 1372 307C1374 307.2 1376.7 308.7 1379 311C1381.3 313.3 1383.3 318.5 1386 321C1388.7 323.5 1391.5 325 1395 326C1398.5 327 1404.7 326.2 1407 327C1409.3 327.8 1409.8 329.2 1409 331C1408.2 332.8 1405.2 336 1402 338C1398.8 340 1393.3 340.5 1390 343C1386.7 345.5 1384.5 350.3 1382 353C1379.5 355.7 1377.5 357.8 1375 359C1372.5 360.2 1368.7 361 1367 360C1365.3 359 1366.2 354.5 1365 353C1363.8 351.5 1360.8 351.3 1360 351" fill="none" stroke="#000" stroke-width="3" stroke-linecap="round" stroke-linejoin="round" />
<path d="M1404 324C1403.3 322.7 1400.5 318.7 1400 316C1399.5 313.3 1399.5 310 1401 308C1402.5 306 1406.5 304 1409 304C1411.5 304 1413.8 305.7 1416 308C1418.2 310.3 1419.3 315.3 1422 318C1424.7 320.7 1428.7 322.3 1432 324C1435.3 325.7 1440 326.8 1442 328C1444 329.2 1444.8 329.3 1444 331C1443.2 332.7 1440.2 335.8 1437 338C1433.8 340.2 1428.7 341 1425 344C1421.3 347 1418.3 352.3 1415 356C1411.7 359.7 1407.7 363.8 1405 366C1402.3 368.2 1400.7 369.2 1399 369C1397.3 368.8 1395.7 365.7 1395 365" fill="none" stroke="#000" stroke-width="3" stroke-linecap="round" stroke-linejoin="round" />
<path d="M1437 321C1437 319.8 1435.7 316.2 1437 314C1438.3 311.8 1442.5 308.5 1445 308C1447.5 307.5 1449.7 308.8 1452 311C1454.3 313.2 1456.5 318 1459 321C1461.5 324 1464.3 327 1467 329C1469.7 331 1473.8 331.5 1475 333C1476.2 334.5 1475.8 336 1474 338C1472.2 340 1467.2 341.3 1464 345C1460.8 348.7 1458.7 355.7 1455 360C1451.3 364.3 1446.2 368.3 1442 371C1437.8 373.7 1433 375.5 1430 376C1427 376.5 1425 374.3 1424 374" fill="none" stroke="#000" stroke-width="3" stroke-linecap="round" stroke-linejoin="round" />
<path d="M1434 345C1434.3 346.7 1436.3 352.2 1436 355C1435.7 357.8 1433.7 359.7 1432 362C1430.3 364.3 1427 367.8 1426 369" fill="none" stroke="#000" stroke-width="2.2" stroke-linecap="round" stroke-linejoin="round" />
<path d="M1470 328C1470.2 326.5 1469.5 321.5 1471 319C1472.5 316.5 1476.5 313.5 1479 313C1481.5 312.5 1483.5 313.8 1486 316C1488.5 318.2 1491.3 323 1494 326C1496.7 329 1499 332 1502 334C1505 336 1510.5 336.5 1512 338C1513.5 339.5 1512.8 341 1511 343C1509.2 345 1504.5 346.8 1501 350C1497.5 353.2 1494 358.2 1490 362C1486 365.8 1481.2 370.5 1477 373C1472.8 375.5 1469.2 376.7 1465 377C1460.8 377.3 1454.2 375.3 1452 375" fill="none" stroke="#000" stroke-width="3" stroke-linecap="round" stroke-linejoin="round" />
<path d="M1466 351C1467 352.2 1471.7 355.7 1472 358C1472.3 360.3 1469.7 363 1468 365C1466.3 367 1463 369.2 1462 370" fill="none" stroke="#000" stroke-width="2.2" stroke-linecap="round" stroke-linejoin="round" />
<path d="M1512 331C1512.5 329.8 1513.5 325.7 1515 324C1516.5 322.3 1519 320.8 1521 321C1523 321.2 1525.8 321.8 1527 325C1528.2 328.2 1527.3 335.5 1528 340C1528.7 344.5 1531.2 348 1531 352C1530.8 356 1529.3 360.3 1527 364C1524.7 367.7 1520 371.5 1517 374C1514 376.5 1510.3 378.2 1509 379" fill="none" stroke="#000" stroke-width="3" stroke-linecap="round" stroke-linejoin="round" />
<path d="M1502 353C1502.5 354.5 1506 358.8 1505 362C1504 365.2 1499 369.5 1496 372C1493 374.5 1488.5 376.2 1487 377" fill="none" stroke="#000" stroke-width="2.2" stroke-linecap="round" stroke-linejoin="round" />
<path d="M1551 334C1549.2 334 1542.5 333.3 1540 334C1537.5 334.7 1536.3 335.3 1536 338C1535.7 340.7 1537.8 346.3 1538 350C1538.2 353.7 1538.3 356.3 1537 360C1535.7 363.7 1532.7 369 1530 372C1527.3 375 1519.3 377.2 1521 378C1522.7 378.8 1533.7 376.5 1540 377C1546.3 377.5 1553.8 379.3 1559 381C1564.2 382.7 1567.5 384.8 1571 387C1574.5 389.2 1578.5 392.8 1580 394" fill="none" stroke="#000" stroke-width="3" stroke-linecap="round" stroke-linejoin="round" />
<path d="M1475 381C1476.8 381 1484.2 381 1486 381" fill="none" stroke="#000" stroke-width="2.4" stroke-linecap="round" stroke-linejoin="round" />
<path d="M1424 376C1426.7 376.3 1434.3 377.5 1440 378C1445.7 378.5 1455 378.8 1458 379" fill="none" stroke="#000" stroke-width="1.4" stroke-linecap="round" stroke-linejoin="round" />
<path d="M1352 338C1352.7 338.3 1355.3 339.7 1356 340" fill="none" stroke="#000" stroke-width="3" stroke-linecap="round" stroke-linejoin="round" />
<path d="M1360 351C1360.7 351.2 1363 351.2 1364 352C1365 352.8 1365.7 355.3 1366 356" fill="none" stroke="#000" stroke-width="2.6" stroke-linecap="round" stroke-linejoin="round" />
<path d="M1174 561C1174 557.8 1177.3 557.2 1180 556C1182.7 554.8 1187.5 554 1190 554C1192.5 554 1194 553.8 1195 556C1196 558.2 1196.2 562 1196 567C1195.8 572 1194.7 578.5 1194 586C1193.3 593.5 1192.2 599.7 1192 612C1191.8 624.3 1192.5 644.7 1193 660C1193.5 675.3 1194.3 689.8 1195 704C1195.7 718.2 1196.7 733.7 1197 745C1197.3 756.3 1198.2 766.5 1197 772C1195.8 777.5 1193.2 777.7 1190 778C1186.8 778.3 1182 776 1178 774C1174 772 1168.5 769.7 1166 766C1163.5 762.3 1163.8 762.3 1163 752C1162.2 741.7 1161.5 719.3 1161 704C1160.5 688.7 1160.3 675.3 1160 660C1159.7 644.7 1159.3 621.8 1159 612C1158.7 602.2 1157 603.3 1158 601C1159 598.7 1162.2 599.5 1165 598C1167.8 596.5 1172.5 594.2 1175 592C1177.5 589.8 1179.2 587.8 1180 585C1180.8 582.2 1181 579 1180 575C1179 571 1174 564.2 1174 561Z" fill="#fff" stroke="none" stroke-width="0" stroke-linejoin="round" />
<path d="M1178 570C1177.3 568.5 1173.7 563.3 1174 561C1174.3 558.7 1177.3 557.2 1180 556C1182.7 554.8 1187.5 554 1190 554C1192.5 554 1194 553.8 1195 556C1196 558.2 1196.2 562 1196 567C1195.8 572 1194.7 578.5 1194 586C1193.3 593.5 1192.2 599.7 1192 612C1191.8 624.3 1192.5 644.7 1193 660C1193.5 675.3 1194.3 689.8 1195 704C1195.7 718.2 1196.5 733.7 1197 745C1197.5 756.3 1197.8 767.5 1198 772" fill="none" stroke="#000" stroke-width="2.8" stroke-linecap="round" stroke-linejoin="round" />
<path d="M1158 601C1158.2 602.8 1158.7 602.2 1159 612C1159.3 621.8 1159.7 644.7 1160 660C1160.3 675.3 1160.5 688.7 1161 704C1161.5 719.3 1162.2 741.7 1163 752C1163.8 762.3 1163.8 762 1166 766C1168.2 770 1174.3 774.3 1176 776" fill="none" stroke="#000" stroke-width="2.8" stroke-linecap="round" stroke-linejoin="round" />
<path d="M1163 603C1163.7 609.2 1165.8 625.5 1167 640C1168.2 654.5 1168.8 673.3 1170 690C1171.2 706.7 1172.7 726.7 1174 740C1175.3 753.3 1177.3 765 1178 770" fill="none" stroke="#000" stroke-width="2" stroke-linecap="round" stroke-linejoin="round" />
<path d="M1170 606C1170.7 613.3 1172.7 634.3 1174 650C1175.3 665.7 1177 685 1178 700C1179 715 1179.8 728.7 1180 740C1180.2 751.3 1179.2 763.3 1179 768" fill="none" stroke="#000" stroke-width="2" stroke-linecap="round" stroke-linejoin="round" />
<path d="M1178 774C1178.7 772.3 1181.7 769.7 1182 764C1182.3 758.3 1180.3 744 1180 740" fill="none" stroke="#000" stroke-width="2" stroke-linecap="round" stroke-linejoin="round" />
<path d="M1176 776C1177.7 776 1182.3 777 1186 776C1189.7 775 1196 771 1198 770" fill="none" stroke="#000" stroke-width="2.4" stroke-linecap="round" stroke-linejoin="round" />
<path d="M1112 851C1107.8 848.8 1115 843.3 1117 840C1119 836.7 1121.7 833.7 1124 831C1126.3 828.3 1128.8 824.3 1131 824C1133.2 823.7 1134.3 828.2 1137 829C1139.7 829.8 1144.5 828.5 1147 829C1149.5 829.5 1151.3 833.5 1152 832C1152.7 830.5 1150.3 823.7 1151 820C1151.7 816.3 1153.7 812.2 1156 810C1158.3 807.8 1163.3 808.7 1165 807C1166.7 805.3 1164.3 802.8 1166 800C1167.7 797.2 1173.3 793.3 1175 790C1176.7 786.7 1172.7 781.3 1176 780C1179.3 778.7 1192 779.2 1195 782C1198 784.8 1194.2 790.3 1194 797C1193.8 803.7 1195.3 814.8 1194 822C1192.7 829.2 1189 835.7 1186 840C1183 844.3 1179.7 846.3 1176 848C1172.3 849.7 1169.7 849.2 1164 850C1158.3 850.8 1150.7 852.8 1142 853C1133.3 853.2 1116.2 853.2 1112 851Z" fill="#fff" stroke="none" stroke-width="0" stroke-linejoin="round" />
<path d="M1112 852C1112.8 850 1115 843.5 1117 840C1119 836.5 1121.7 833.7 1124 831C1126.3 828.3 1128.8 824.3 1131 824C1133.2 823.7 1135.2 828.5 1137 829C1138.8 829.5 1140.3 827 1142 827C1143.7 827 1145.3 828 1147 829C1148.7 830 1151.2 832.3 1152 833" fill="none" stroke="#000" stroke-width="2.6" stroke-linecap="round" stroke-linejoin="round" />
<path d="M1155 835C1154.5 833.5 1152.7 828.5 1152 826C1151.3 823.5 1150.3 822.7 1151 820C1151.7 817.3 1153.7 812.2 1156 810C1158.3 807.8 1163.5 807.5 1165 807" fill="none" stroke="#000" stroke-width="2.6" stroke-linecap="round" stroke-linejoin="round" />
<path d="M1164 818C1163 818.7 1159.3 820.7 1158 822C1156.7 823.3 1156.3 825.3 1156 826" fill="none" stroke="#000" stroke-width="2.6" stroke-linecap="round" stroke-linejoin="round" />
<path d="M1165 807C1165.2 805.8 1164.3 802.8 1166 800C1167.7 797.2 1172.3 791 1175 790C1177.7 789 1180.8 793.3 1182 794" fill="none" stroke="#000" stroke-width="2.6" stroke-linecap="round" stroke-linejoin="round" />
<path d="M1176 780C1177.7 780.7 1182.8 783.7 1186 784C1189.2 784.3 1194 781 1195 782C1196 783 1193.8 788.3 1192 790C1190.2 791.7 1185.3 791.7 1184 792" fill="none" stroke="#000" stroke-width="2.6" stroke-linecap="round" stroke-linejoin="round" />
<path d="M1112 852C1117 852.2 1133.3 853.3 1142 853C1150.7 852.7 1160.3 850.5 1164 850" fill="none" stroke="#000" stroke-width="2.6" stroke-linecap="round" stroke-linejoin="round" />
<path d="M1164 850C1164.2 847 1165.3 836 1165 832C1164.7 828 1162.5 827 1162 826" fill="none" stroke="#000" stroke-width="2.6" stroke-linecap="round" stroke-linejoin="round" />
<path d="M1124 833C1126 833.3 1131.7 835 1136 835C1140.3 835 1147.7 833.3 1150 833" fill="none" stroke="#000" stroke-width="2.2" stroke-linecap="round" stroke-linejoin="round" />
<path d="M1129 842C1128.8 843.5 1128.2 849.5 1128 851" fill="none" stroke="#000" stroke-width="2" stroke-linecap="round" stroke-linejoin="round" />
<path d="M1141 843C1141.2 844.5 1141.8 850.5 1142 852" fill="none" stroke="#000" stroke-width="2" stroke-linecap="round" stroke-linejoin="round" />
<path d="M1180 802C1179 806.3 1175.8 820 1174 828C1172.2 836 1168.8 846.8 1169 850C1169.2 853.2 1172.3 855.3 1175 847C1177.7 838.7 1183.3 807.8 1185 800" fill="none" stroke="#000" stroke-width="2" stroke-linecap="round" stroke-linejoin="round" />
<path d="M1189 799C1188 805 1184 829 1183 835" fill="none" stroke="#000" stroke-width="2" stroke-linecap="round" stroke-linejoin="round" />
<path d="M1194 797C1193.3 802.5 1190.7 824.5 1190 830" fill="none" stroke="#000" stroke-width="2" stroke-linecap="round" stroke-linejoin="round" />
<path d="M1176 848C1174.7 848.5 1169.3 850.5 1168 851" fill="none" stroke="#000" stroke-width="2" stroke-linecap="round" stroke-linejoin="round" />
<path d="M1576 394C1585 365.7 1586.7 392.3 1590 400C1593.3 407.7 1594.3 430.7 1596 440C1597.7 449.3 1601.8 447.7 1600 456C1598.2 464.3 1590.7 477.7 1585 490C1579.3 502.3 1571.5 517.3 1566 530C1560.5 542.7 1557 559.3 1552 566C1547 572.7 1532 598.7 1536 570C1540 541.3 1567 422.3 1576 394Z" fill="#fff" stroke="none" stroke-width="0" stroke-linejoin="round" />
<g filter="url(#b1)">
<path d="M1576 394C1577.7 390.7 1587 394 1590 400C1593 406 1592.8 421.3 1594 430C1595.2 438.7 1597.7 447.7 1597 452C1596.3 456.3 1592.2 456.3 1590 456C1587.8 455.7 1585.7 456 1584 450C1582.3 444 1581.3 429.3 1580 420C1578.7 410.7 1574.3 397.3 1576 394Z" fill="#B4B4B4" stroke="none" stroke-width="0" stroke-linejoin="round" />
<path d="M1590 454C1592.7 454.3 1600.8 452 1600 458C1599.2 464 1590.7 478 1585 490C1579.3 502 1571.5 517.3 1566 530C1560.5 542.7 1559 558 1552 566C1545 574 1527 579.7 1524 578C1521 576.3 1529.3 565.7 1534 556C1538.7 546.3 1545.7 533 1552 520C1558.3 507 1566.7 488.7 1572 478C1577.3 467.3 1581 460 1584 456C1587 452 1587.3 453.7 1590 454Z" fill="url(#gfem)" stroke="none" stroke-width="0" stroke-linejoin="round" />
</g>
<path d="M1576 394C1577 398.3 1580 411.3 1582 420C1584 428.7 1587 441.7 1588 446" fill="none" stroke="#000" stroke-width="2.7" stroke-linecap="round" stroke-linejoin="round" />
<path d="M1600 458C1597.5 463.3 1590.7 478 1585 490C1579.3 502 1571.5 517.3 1566 530C1560.5 542.7 1554.3 560 1552 566" fill="none" stroke="#000" stroke-width="2.6" stroke-linecap="round" stroke-linejoin="round" />
<path d="M1540 545C1538.3 547.8 1533.7 557.2 1530 562C1526.3 566.8 1520 572 1518 574" fill="none" stroke="#000" stroke-width="2.2" stroke-linecap="round" stroke-linejoin="round" />
<path d="M1513 578C1514.3 574.3 1516.7 571.7 1522 570C1527.3 568.3 1540 565.5 1545 568C1550 570.5 1551.2 580.3 1552 585C1552.8 589.7 1552 593.2 1550 596C1548 598.8 1543.3 600.3 1540 602C1536.7 603.7 1533.3 605.7 1530 606C1526.7 606.3 1522.7 606.3 1520 604C1517.3 601.7 1515.2 596.3 1514 592C1512.8 587.7 1511.7 581.7 1513 578Z" fill="#fff" stroke="#000" stroke-width="2.7" stroke-linejoin="round" />
<path d="M1498 594C1498.3 590 1503.7 585 1506 586C1508.3 587 1510.5 594.8 1512 600C1513.5 605.2 1516.3 615.3 1515 617C1513.7 618.7 1506.8 613.8 1504 610C1501.2 606.2 1497.7 598 1498 594Z" fill="#fff" stroke="#000" stroke-width="2.6" stroke-linejoin="round" />
<path d="M1520 618C1520 610.8 1528.3 613.3 1535 612C1541.7 610.7 1553.8 605.3 1560 610C1566.2 614.7 1566.7 626.7 1572 640C1577.3 653.3 1585.3 674.2 1592 690C1598.7 705.8 1607.3 723.3 1612 735C1616.7 746.7 1620.7 754.5 1620 760C1619.3 765.5 1613 771.3 1608 768C1603 764.7 1598 752.2 1590 740C1582 727.8 1569.2 709.2 1560 695C1550.8 680.8 1541.7 667.8 1535 655C1528.3 642.2 1520 625.2 1520 618Z" fill="#fff" stroke="#000" stroke-width="2.7" stroke-linejoin="round" />
<path d="M1548 612C1551.7 620 1562.2 642.8 1570 660C1577.8 677.2 1588 698.7 1595 715C1602 731.3 1609.2 750.8 1612 758" fill="none" stroke="#000" stroke-width="1.9" stroke-linecap="round" stroke-linejoin="round" />
<path d="M1556 612C1560 620.8 1572.7 647.8 1580 665C1587.3 682.2 1594 700 1600 715C1606 730 1613.3 748.3 1616 755" fill="none" stroke="#000" stroke-width="1.9" stroke-linecap="round" stroke-linejoin="round" />
<path d="M1621 757C1622.5 755.8 1627 752.2 1630 750C1633 747.8 1636 744.5 1639 744C1642 743.5 1645.3 746 1648 747C1650.7 748 1653.8 748.8 1655 750C1656.2 751.2 1656.8 751.7 1655 754C1653.2 756.3 1647.8 761 1644 764C1640.2 767 1636.2 769 1632 772C1627.8 775 1621.2 780.3 1619 782" fill="none" stroke="#000" stroke-width="2.8" stroke-linecap="round" stroke-linejoin="round" />
<path d="M1614.5 786C1614.7 786.1 1615.3 786.4 1615.5 786.5" fill="none" stroke="#000" stroke-width="3" stroke-linecap="round" stroke-linejoin="round" />
<path d="M1606 774C1604.2 775 1596.7 778.2 1595 780C1593.3 781.8 1594 783.5 1596 785C1598 786.5 1605.2 788.3 1607 789" fill="none" stroke="#000" stroke-width="2.8" stroke-linecap="round" stroke-linejoin="round" />
<path d="M1592 784C1588.3 785.7 1578 791 1570 794C1562 797 1547.7 799 1544 802C1540.3 805 1543.7 811.5 1548 812C1552.3 812.5 1561.3 808.5 1570 805C1578.7 801.5 1595 793.3 1600 791" fill="none" stroke="#000" stroke-width="2.8" stroke-linecap="round" stroke-linejoin="round" />
<path d="M1545 797C1548.3 795.8 1559.3 792 1565 790C1570.7 788 1576.7 785.8 1579 785" fill="none" stroke="#000" stroke-width="2.2" stroke-linecap="round" stroke-linejoin="round" />
<path d="M1586 804C1587.8 803.5 1593.5 802.7 1597 801C1600.5 799.3 1605.3 795.2 1607 794" fill="none" stroke="#000" stroke-width="2.4" stroke-linecap="round" stroke-linejoin="round" />
<path d="M1544 802C1540 801.2 1526.5 798.7 1520 797C1513.5 795.3 1509.2 792.3 1505 792C1500.8 791.7 1497.5 793.2 1495 795C1492.5 796.8 1491.3 800.7 1490 803C1488.7 805.3 1486.3 808.7 1487 809C1487.7 809.3 1492.8 805.7 1494 805" fill="none" stroke="#000" stroke-width="2.4" stroke-linecap="round" stroke-linejoin="round" />
<path d="M1497 810C1497.8 808.3 1499.7 802.2 1502 800C1504.3 797.8 1508.5 797 1511 797C1513.5 797 1516 798.3 1517 800C1518 801.7 1515 805 1517 807C1519 809 1526 809.8 1529 812C1532 814.2 1532.3 818.3 1535 820C1537.7 821.7 1542.3 821.7 1545 822C1547.7 822.3 1550 822 1551 822" fill="none" stroke="#000" stroke-width="2.4" stroke-linecap="round" stroke-linejoin="round" />
<path d="M1504 812C1505.8 812 1513.2 812 1515 812" fill="none" stroke="#000" stroke-width="1.8" stroke-linecap="round" stroke-linejoin="round" />
<path d="M1507 804C1507.7 804.8 1510.3 808.2 1511 809" fill="none" stroke="#000" stroke-width="2" stroke-linecap="round" stroke-linejoin="round" />
<path d="M1530 805C1529.8 806 1529.2 810 1529 811" fill="none" stroke="#000" stroke-width="1.6" stroke-linecap="round" stroke-linejoin="round" />
<path d="M1551 815C1551.2 815.2 1551.8 815.8 1552 816" fill="none" stroke="#000" stroke-width="3" stroke-linecap="round" stroke-linejoin="round" />
<path d="M1611 360C1612.5 360.7 1618.2 361.7 1620 364C1621.8 366.3 1620 371.5 1622 374C1624 376.5 1629.2 377.3 1632 379C1634.8 380.7 1638.3 382.5 1639 384C1639.7 385.5 1636.5 387.3 1636 388" fill="none" stroke="#000" stroke-width="2.8" stroke-linecap="round" stroke-linejoin="round" />
<path d="M1638 386C1638.7 385.2 1640 381.7 1642 381C1644 380.3 1648 380.7 1650 382C1652 383.3 1652 387.7 1654 389C1656 390.3 1658.5 388.8 1662 390C1665.5 391.2 1670.8 393.7 1675 396C1679.2 398.3 1683.7 401.8 1687 404C1690.3 406.2 1692.7 408.5 1695 409C1697.3 409.5 1699.5 406.2 1701 407C1702.5 407.8 1704 411.8 1704 414C1704 416.2 1702.3 419 1701 420C1699.7 421 1696 419.2 1696 420C1696 420.8 1700.2 424.2 1701 425" fill="none" stroke="#000" stroke-width="2.8" stroke-linecap="round" stroke-linejoin="round" />
<path d="M1710 434C1711 433.5 1714.5 430.8 1716 431C1717.5 431.2 1719 433.5 1719 435C1719 436.5 1715 438 1716 440C1717 442 1722.8 445 1725 447C1727.2 449 1727.3 451.3 1729 452C1730.7 452.7 1733.7 450.2 1735 451C1736.3 451.8 1736.5 455 1737 457C1737.5 459 1738 461.3 1738 463C1738 464.7 1738.3 466.2 1737 467C1735.7 467.8 1730.3 467.5 1730 468C1729.7 468.5 1733.5 468.7 1735 470C1736.5 471.3 1737.8 473.5 1739 476C1740.2 478.5 1741.7 482.7 1742 485C1742.3 487.3 1740.7 487.7 1741 490C1741.3 492.3 1742.5 497.2 1744 499C1745.5 500.8 1748.8 499.3 1750 501C1751.2 502.7 1750.2 507.5 1751 509C1751.8 510.5 1754.5 507.8 1755 510C1755.5 512.2 1754.5 517.2 1754 522C1753.5 526.8 1754 536.2 1752 539C1750 541.8 1743.7 539 1742 539" fill="none" stroke="#000" stroke-width="2.8" stroke-linecap="round" stroke-linejoin="round" />
<path d="M1752 540C1751.7 542.5 1751 550 1750 555C1749 560 1746.7 566.3 1746 570C1745.3 573.7 1746.8 575.8 1746 577C1745.2 578.2 1741.8 577 1741 577" fill="none" stroke="#000" stroke-width="2.8" stroke-linecap="round" stroke-linejoin="round" />
<path d="M1747 580C1746.8 582 1746.8 587 1746 592C1745.2 597 1743.3 604.5 1742 610C1740.7 615.5 1739.3 619.2 1738 625C1736.7 630.8 1735.3 637.5 1734 645C1732.7 652.5 1731 662.8 1730 670C1729 677.2 1728.7 682.2 1728 688C1727.3 693.8 1726.8 697.2 1726 705C1725.2 712.8 1723.2 724.7 1723 735C1722.8 745.3 1724.7 761.7 1725 767" fill="none" stroke="#000" stroke-width="2.8" stroke-linecap="round" stroke-linejoin="round" />
<path d="M1660 409C1661.7 410 1666.5 413.3 1670 415C1673.5 416.7 1677.7 417 1681 419C1684.3 421 1686.8 424.2 1690 427C1693.2 429.8 1696.8 433 1700 436C1703.2 439 1706.5 441.3 1709 445C1711.5 448.7 1713 453.5 1715 458C1717 462.5 1718.5 467.5 1721 472C1723.5 476.5 1727.5 480.8 1730 485C1732.5 489.2 1734.3 492.8 1736 497C1737.7 501.2 1739.2 505.3 1740 510C1740.8 514.7 1741.7 521 1741 525C1740.3 529 1737 531.5 1736 534C1735 536.5 1734.8 538.5 1735 540C1735.2 541.5 1737 540.7 1737 543C1737 545.3 1735.2 550.2 1735 554C1734.8 557.8 1736.2 561.5 1736 566C1735.8 570.5 1734.2 576.7 1734 581C1733.8 585.3 1735.3 587.2 1735 592C1734.7 596.8 1733.2 604.5 1732 610C1730.8 615.5 1729.3 618.3 1728 625C1726.7 631.7 1725.3 640.8 1724 650C1722.7 659.2 1721.2 670 1720 680C1718.8 690 1717.8 700.8 1717 710C1716.2 719.2 1714.8 726.3 1715 735C1715.2 743.7 1716.3 754.5 1718 762C1719.7 769.5 1723.8 777 1725 780" fill="none" stroke="#000" stroke-width="2.8" stroke-linecap="round" stroke-linejoin="round" />
<path d="M1670 401C1672.5 402.7 1682.5 409.3 1685 411" fill="none" stroke="#000" stroke-width="1.6" stroke-linecap="round" stroke-linejoin="round" />
<path d="M1743 575C1743.8 575.3 1747.2 576.7 1748 577" fill="none" stroke="#000" stroke-width="2.2" stroke-linecap="round" stroke-linejoin="round" />
<path d="M1736 625C1736.8 625.2 1740.2 625.8 1741 626" fill="none" stroke="#000" stroke-width="2.2" stroke-linecap="round" stroke-linejoin="round" />
<path d="M1013.6 84 L1013.6 370" stroke="#A36B1B" stroke-width="10" stroke-linecap="round" fill="none"/>
<path d="M1631 101 L1631 385" stroke="#A36B1B" stroke-width="8" stroke-linecap="round" fill="none"/>
<path d="M1026 118 L1622 118" stroke="#A36B1B" stroke-width="5.5" stroke-linecap="round" fill="none"/>
<path d="M1049 107.5 L1023 114.5 L1058 125" stroke="#A36B1B" stroke-width="8" stroke-linecap="round" stroke-linejoin="round" fill="none"/>
<path d="M1585 108 Q1605 112 1625 117.5 Q1600 122 1586 130" stroke="#A36B1B" stroke-width="7.5" stroke-linecap="round" stroke-linejoin="round" fill="none"/>
<path d="M1010 381C1012 373.7 1014 365.8 1017 360C1020 354.2 1022.5 351.7 1028 346C1033.5 340.3 1041 331.3 1050 326C1059 320.7 1072 315.7 1082 314C1092 312.3 1102 312.7 1110 316C1118 319.3 1124.7 327.3 1130 334C1135.3 340.7 1139.7 349 1142 356C1144.3 363 1146.8 370.7 1144 376C1141.2 381.3 1130.3 385 1125 388C1119.7 391 1118.3 389.3 1112 394C1105.7 398.7 1094.8 409 1087 416C1079.2 423 1070 430 1065 436C1060 442 1060.3 448.3 1057 452C1053.7 455.7 1049.2 458 1045 458C1040.8 458 1035.3 453.3 1032 452C1028.7 450.7 1027.3 449.3 1025 450C1022.7 450.7 1020.2 455.3 1018 456C1015.8 456.7 1013.7 455.3 1012 454C1010.3 452.7 1009.7 449.7 1008 448C1006.3 446.3 1002 446.3 1002 444C1002 441.7 1006.7 437 1008 434C1009.3 431 1010.5 431 1010 426C1009.5 421 1005 411.5 1005 404C1005 396.5 1008 388.3 1010 381Z" fill="#FF4B00" stroke="none" stroke-width="0" stroke-linejoin="round" />
<path d="M1012 454C1010.7 452.7 1004.5 450.7 1004 446C1003.5 441.3 1008.8 433 1009 426C1009.2 419 1004.8 411.5 1005 404C1005.2 396.5 1006.2 390.7 1010 381C1013.8 371.3 1021.3 355.2 1028 346C1034.7 336.8 1041 331.3 1050 326C1059 320.7 1072 315.7 1082 314C1092 312.3 1105.3 315.7 1110 316" fill="none" stroke="#000" stroke-width="3" stroke-linecap="round" stroke-linejoin="round" />
<path d="M1045 330C1050 327.7 1065.8 319 1075 316C1084.2 313 1092.8 311.7 1100 312C1107.2 312.3 1112.7 314 1118 318C1123.3 322 1127.8 329.3 1132 336C1136.2 342.7 1141.2 354.3 1143 358" fill="none" stroke="#000" stroke-width="2.8" stroke-linecap="round" stroke-linejoin="round" />
<path d="M1144 376C1138.7 379 1121.5 387.3 1112 394C1102.5 400.7 1094.8 409 1087 416C1079.2 423 1070 430 1065 436C1060 442 1060.3 448.3 1057 452C1053.7 455.7 1049.5 458 1045 458C1040.5 458 1032.5 453 1030 452" fill="none" stroke="#000" stroke-width="2.8" stroke-linecap="round" stroke-linejoin="round" />
<path d="M1105 332C1101.7 334.3 1091.7 339.7 1085 346C1078.3 352.3 1070.8 362 1065 370C1059.2 378 1052.5 390 1050 394" fill="none" stroke="#000" stroke-width="2.4" stroke-linecap="round" stroke-linejoin="round" />
<path d="M1110 352C1105.8 356.3 1093.3 368.3 1085 378C1076.7 387.7 1066.7 401.3 1060 410C1053.3 418.7 1047.5 426.7 1045 430" fill="none" stroke="#000" stroke-width="1.6" stroke-linecap="round" stroke-linejoin="round" />
<path d="M1030 452C1028.7 451.3 1024 447.3 1022 448C1020 448.7 1019.7 455.3 1018 456C1016.3 456.7 1013 452.7 1012 452" fill="none" stroke="#000" stroke-width="2.4" stroke-linecap="round" stroke-linejoin="round" />
<path d="M982 475C982.2 472.5 984.3 469.8 986 468C987.7 466.2 988.8 465.2 992 464C995.2 462.8 1000.8 461.5 1005 461C1009.2 460.5 1013.5 462.2 1017 461C1020.5 459.8 1023 454.5 1026 454C1029 453.5 1032.3 456.2 1035 458C1037.7 459.8 1040.8 462.3 1042 465C1043.2 467.7 1042.3 471.2 1042 474C1041.7 476.8 1041.2 479.7 1040 482C1038.8 484.3 1032.5 481.3 1035 488C1037.5 494.7 1046.7 507.5 1055 522C1063.3 536.5 1075.5 560.8 1085 575C1094.5 589.2 1106.2 600.3 1112 607C1117.8 613.7 1119.7 610.8 1120 615C1120.3 619.2 1115.7 627 1114 632C1112.3 637 1112 642.3 1110 645C1108 647.7 1105 648.8 1102 648C1099 647.2 1094 644.7 1092 640C1090 635.3 1095.3 630 1090 620C1084.7 610 1070.8 595.3 1060 580C1049.2 564.7 1035.5 542.2 1025 528C1014.5 513.8 1003.7 502.5 997 495C990.3 487.5 987.5 486.3 985 483C982.5 479.7 981.8 477.5 982 475Z" fill="#35FF00" stroke="#000" stroke-width="3" stroke-linejoin="round" />
<path d="M1090 648C1091.3 645.3 1093.8 645.5 1096 646C1098.2 646.5 1101.5 648.7 1103 651C1104.5 653.3 1106 652.3 1105 660C1104 667.7 1099.7 683.7 1097 697C1094.3 710.3 1091.2 727 1089 740C1086.8 753 1085.3 765 1084 775C1082.7 785 1082.7 796.2 1081 800C1079.3 803.8 1076 799.7 1074 798C1072 796.3 1069.2 797.2 1069 790C1068.8 782.8 1071.3 769.2 1073 755C1074.7 740.8 1076.5 720.5 1079 705C1081.5 689.5 1086.2 671.5 1088 662C1089.8 652.5 1088.7 650.7 1090 648Z" fill="#F000FF" stroke="#000" stroke-width="3" stroke-linejoin="round" />
<path d="M1122 608C1124.5 603.5 1129.2 603.5 1133 603C1136.8 602.5 1142.5 601.8 1145 605C1147.5 608.2 1148.7 614.5 1148 622C1147.3 629.5 1143.5 641.2 1141 650C1138.5 658.8 1136.3 665.8 1133 675C1129.7 684.2 1125.2 693.8 1121 705C1116.8 716.2 1111.7 729.5 1108 742C1104.3 754.5 1101 770.3 1099 780C1097 789.7 1096.2 794.8 1096 800C1095.8 805.2 1099 808.7 1098 811C1097 813.3 1092.5 814.5 1090 814C1087.5 813.5 1084.7 810.7 1083 808C1081.3 805.3 1079.8 804.3 1080 798C1080.2 791.7 1082.3 779.7 1084 770C1085.7 760.3 1087.5 751.3 1090 740C1092.5 728.7 1095.7 715 1099 702C1102.3 689 1106.8 674 1110 662C1113.2 650 1116 639 1118 630C1120 621 1119.5 612.5 1122 608Z" fill="#F000FF" stroke="#000" stroke-width="3" stroke-linejoin="round" />
<path d="M1020 816C1020.5 813.5 1026.5 809.8 1030 809C1033.5 808.2 1039.3 808.8 1041 811C1042.7 813.2 1037.7 820.2 1040 822C1042.3 823.8 1053 820.3 1055 822C1057 823.7 1055 829.8 1052 832C1049 834.2 1040.7 835 1037 835C1033.3 835 1031.7 833.8 1030 832C1028.3 830.2 1028.7 826.7 1027 824C1025.3 821.3 1019.5 818.5 1020 816Z" fill="#3FFFD2" stroke="none" stroke-width="0" stroke-linejoin="round" />
<path d="M1019 856C1018.8 854.3 1022.5 850.3 1026 850C1029.5 849.7 1036.8 852.3 1040 854C1043.2 855.7 1045 858.2 1045 860C1045 861.8 1043 865 1040 865C1037 865 1030.5 861.5 1027 860C1023.5 858.5 1019.2 857.7 1019 856Z" fill="#3FFFD2" stroke="none" stroke-width="0" stroke-linejoin="round" />
<path d="M985 881C984.2 878 988.5 873.2 990 870C991.5 866.8 991.5 863.3 994 862C996.5 860.7 1000.3 860.8 1005 862C1009.7 863.2 1017.5 868.3 1022 869C1026.5 869.7 1027.8 866.7 1032 866C1036.2 865.3 1042 864.3 1047 865C1052 865.7 1059.8 868 1062 870C1064.2 872 1061.8 875 1060 877C1058.2 879 1054.3 881.5 1051 882C1047.7 882.5 1043.5 879.3 1040 880C1036.5 880.7 1035 884.7 1030 886C1025 887.3 1015.8 887.7 1010 888C1004.2 888.3 999.2 889.2 995 888C990.8 886.8 985.8 884 985 881Z" fill="#3FFFD2" stroke="none" stroke-width="0" stroke-linejoin="round" />
<path d="M1021 818C1021.2 817 1020.5 813.7 1022 812C1023.5 810.3 1027.3 808.5 1030 808C1032.7 807.5 1036 808 1038 809C1040 810 1042 811.8 1042 814C1042 816.2 1038.2 819.3 1038 822C1037.8 824.7 1040.5 828.7 1041 830" fill="none" stroke="#000" stroke-width="2.6" stroke-linecap="round" stroke-linejoin="round" />
<path d="M1024 818C1024.8 818.7 1028.5 820.3 1029 822C1029.5 823.7 1026.7 826 1027 828C1027.3 830 1030.3 833 1031 834" fill="none" stroke="#000" stroke-width="2.6" stroke-linecap="round" stroke-linejoin="round" />
<path d="M1041 823C1043.2 822.7 1051.8 821.3 1054 821" fill="none" stroke="#000" stroke-width="2.6" stroke-linecap="round" stroke-linejoin="round" />
<path d="M1018 858C1018.7 857.2 1020 854.2 1022 853C1024 851.8 1027.3 850.8 1030 851C1032.7 851.2 1037.3 852.5 1038 854C1038.7 855.5 1033 858.7 1034 860C1035 861.3 1042.3 861.7 1044 862" fill="none" stroke="#000" stroke-width="2.6" stroke-linecap="round" stroke-linejoin="round" />
<path d="M985 884C984.8 883 983.2 879.5 984 878C984.8 876.5 988.3 877.3 990 875C991.7 872.7 993.3 865.8 994 864" fill="none" stroke="#000" stroke-width="2.6" stroke-linecap="round" stroke-linejoin="round" />
<path d="M994 860C996 859.8 1004 859.2 1006 859" fill="none" stroke="#000" stroke-width="2.4" stroke-linecap="round" stroke-linejoin="round" />
<path d="M996 886C996.7 884 998.7 877 1000 874C1001.3 871 1003.3 869 1004 868" fill="none" stroke="#000" stroke-width="2.6" stroke-linecap="round" stroke-linejoin="round" />
<path d="M1010 888C1009.7 886.3 1007.3 881.3 1008 878C1008.7 874.7 1012.3 868 1014 868C1015.7 868 1016.7 877.3 1018 878C1019.3 878.7 1021 871 1022 872C1023 873 1025.3 881.7 1024 884C1022.7 886.3 1015.7 885.7 1014 886" fill="none" stroke="#000" stroke-width="2.6" stroke-linecap="round" stroke-linejoin="round" />
<path d="M1028 868C1028.7 867.7 1029 866.7 1032 866C1035 865.3 1042 864 1046 864C1050 864 1054.3 865.7 1056 866" fill="none" stroke="#000" stroke-width="2.6" stroke-linecap="round" stroke-linejoin="round" />
<path d="M1030 872C1031.7 872.3 1036.3 874 1040 874C1043.7 874 1049 871.7 1052 872C1055 872.3 1058.3 874.3 1058 876C1057.7 877.7 1052 881.3 1050 882C1048 882.7 1046.7 880.3 1046 880" fill="none" stroke="#000" stroke-width="2.6" stroke-linecap="round" stroke-linejoin="round" />
<path d="M1028 882C1029 881.3 1033 878.7 1034 878" fill="none" stroke="#000" stroke-width="2.6" stroke-linecap="round" stroke-linejoin="round" />
<path d="M1066 805C1066.2 803.5 1068.3 802.7 1070 803C1071.7 803.3 1074.3 804.7 1076 807C1077.7 809.3 1079.5 814.5 1080 817C1080.5 819.5 1080.3 821.5 1079 822C1077.7 822.5 1073.7 821.7 1072 820C1070.3 818.3 1070 814.5 1069 812C1068 809.5 1065.8 806.5 1066 805Z" fill="#1B20D8" stroke="#000" stroke-width="2.8" stroke-linejoin="round" />
<path d="M1057 822C1059.7 817.8 1064.7 818.3 1066 820C1067.3 821.7 1066.5 826.8 1065 832C1063.5 837.2 1059.3 845.7 1057 851C1054.7 856.3 1052.8 862.5 1051 864C1049.2 865.5 1046.2 863.2 1046 860C1045.8 856.8 1048.2 851.3 1050 845C1051.8 838.7 1054.3 826.2 1057 822Z" fill="#1B20D8" stroke="none" stroke-width="0" stroke-linejoin="round" />
<path d="M1070 825C1072.8 823.2 1082 823.2 1085 824C1088 824.8 1088.5 827.3 1088 830C1087.5 832.7 1084.3 835.8 1082 840C1079.7 844.2 1076.2 850.7 1074 855C1071.8 859.3 1072 864.2 1069 866C1066 867.8 1057.2 868.7 1056 866C1054.8 863.3 1060 855.2 1062 850C1064 844.8 1066.7 839.2 1068 835C1069.3 830.8 1067.2 826.8 1070 825Z" fill="#1B20D8" stroke="none" stroke-width="0" stroke-linejoin="round" />
<path d="M1070 825C1072.5 824.8 1082 823.2 1085 824C1088 824.8 1088.5 827.3 1088 830C1087.5 832.7 1084.3 835.8 1082 840C1079.7 844.2 1076.2 850.7 1074 855C1071.8 859.3 1071.7 864 1069 866C1066.3 868 1059.8 866.8 1058 867" fill="none" stroke="#000" stroke-width="3" stroke-linecap="round" stroke-linejoin="round" />
<path d="M1060 818C1058.7 822 1054.7 835 1052 842C1049.3 849 1045.3 857 1044 860" fill="none" stroke="#000" stroke-width="1.6" stroke-linecap="round" stroke-linejoin="round" />
<path d="M1066 822C1065 825.8 1062.3 837.7 1060 845C1057.7 852.3 1053.3 862.5 1052 866" fill="none" stroke="#000" stroke-width="2.6" stroke-linecap="round" stroke-linejoin="round" />
<path d="M1070 828C1068.7 831.7 1064.5 843.3 1062 850C1059.5 856.7 1056.2 865 1055 868" fill="none" stroke="#000" stroke-width="1.6" stroke-linecap="round" stroke-linejoin="round" />
<path d="M1553 329C1554.2 326.7 1558 326.8 1563 328C1568 329.2 1576.3 331.7 1583 336C1589.7 340.3 1597.5 347.7 1603 354C1608.5 360.3 1611.8 367.3 1616 374C1620.2 380.7 1621.8 386.5 1628 394C1634.2 401.5 1645.5 409.8 1653 419C1660.5 428.2 1668 441.2 1673 449C1678 456.8 1682.2 461.5 1683 466C1683.8 470.5 1683 474.2 1678 476C1673 477.8 1661.3 478.5 1653 477C1644.7 475.5 1635.5 470 1628 467C1620.5 464 1613.8 461.8 1608 459C1602.2 456.2 1597.2 451.8 1593 450C1588.8 448.2 1583.8 449.8 1583 448C1582.2 446.2 1585.5 442.2 1588 439C1590.5 435.8 1597.2 434.8 1598 429C1598.8 423.2 1595.5 412.3 1593 404C1590.5 395.7 1587.5 386.5 1583 379C1578.5 371.5 1570.5 365.2 1566 359C1561.5 352.8 1558.2 347 1556 342C1553.8 337 1551.8 331.3 1553 329Z" fill="#FF4B00" stroke="#000" stroke-width="2.8" stroke-linejoin="round" />
<path d="M1616 414C1616.2 410.8 1617.3 409.5 1619 408C1620.7 406.5 1622.5 405.8 1626 405C1629.5 404.2 1636 403.7 1640 403C1644 402.3 1647.3 400.5 1650 401C1652.7 401.5 1654.8 404.2 1656 406C1657.2 407.8 1657.3 408.5 1657 412C1656.7 415.5 1655.8 418.3 1654 427C1652.2 435.7 1649 451.2 1646 464C1643 476.8 1639 494.7 1636 504C1633 513.3 1630.5 512.3 1628 520C1625.5 527.7 1622.5 540.8 1621 550C1619.5 559.2 1618.7 565.8 1619 575C1619.3 584.2 1621.2 598.3 1623 605C1624.8 611.7 1628.5 611.2 1630 615C1631.5 618.8 1633.2 624 1632 628C1630.8 632 1627.8 637.7 1623 639C1618.2 640.3 1609.2 638.3 1603 636C1596.8 633.7 1589.3 629.7 1586 625C1582.7 620.3 1581.5 614.3 1583 608C1584.5 601.7 1591.7 596.7 1595 587C1598.3 577.3 1600 564.5 1603 550C1606 535.5 1609.7 514.3 1613 500C1616.3 485.7 1620.5 474.7 1623 464C1625.5 453.3 1628.8 442.2 1628 436C1627.2 429.8 1620 430.7 1618 427C1616 423.3 1615.8 417.2 1616 414Z" fill="#35FF00" stroke="#000" stroke-width="3" stroke-linejoin="round" />
<path d="M1578 634C1578.3 631.2 1581 626.7 1583 628C1585 629.3 1587.2 638.3 1590 642C1592.8 645.7 1600 648.3 1600 650C1600 651.7 1593.2 652.8 1590 652C1586.8 651.2 1583 648 1581 645C1579 642 1577.7 636.8 1578 634Z" fill="#fff" stroke="#000" stroke-width="2.4" stroke-linejoin="round" />
<path d="M1636 645C1636 642.7 1639.3 642.5 1650 650C1660.7 657.5 1684.2 677.7 1700 690C1715.8 702.3 1739.2 718 1745 724C1750.8 730 1744.2 731.3 1735 726C1725.8 720.7 1704.2 702.3 1690 692C1675.8 681.7 1659 671.8 1650 664C1641 656.2 1636 647.3 1636 645Z" fill="#F000FF" stroke="none" stroke-width="0" stroke-linejoin="round" />
<path d="M1604 643C1605.2 640 1612 640.5 1616 640C1620 639.5 1623.5 637.8 1628 640C1632.5 642.2 1634.7 646.3 1643 653C1651.3 659.7 1663.8 669.7 1678 680C1692.2 690.3 1713.3 704.7 1728 715C1742.7 725.3 1758.7 735.8 1766 742C1773.3 748.2 1772.5 748.8 1772 752C1771.5 755.2 1770.3 763.3 1763 761C1755.7 758.7 1744.2 749 1728 738C1711.8 727 1682.7 705.5 1666 695C1649.3 684.5 1637.2 679.2 1628 675C1618.8 670.8 1614.2 672.8 1611 670C1607.8 667.2 1610.2 662.5 1609 658C1607.8 653.5 1602.8 646 1604 643Z" fill="#F000FF" stroke="#000" stroke-width="2.8" stroke-linejoin="round" />
<path d="M1642 634C1642.5 631.7 1645 628.7 1648 630C1651 631.3 1651.3 633.3 1660 642C1668.7 650.7 1686.7 669 1700 682C1713.3 695 1729.7 710.3 1740 720C1750.3 729.7 1759 736 1762 740C1765 744 1763.3 747 1758 744C1752.7 741 1741.3 731.3 1730 722C1718.7 712.7 1702.5 699.2 1690 688C1677.5 676.8 1662.5 662.3 1655 655C1647.5 647.7 1647.2 647.5 1645 644C1642.8 640.5 1641.5 636.3 1642 634Z" fill="#F000FF" stroke="#000" stroke-width="2.6" stroke-linejoin="round" />
<path d="M1656 663 L1690 692 L1722 716" stroke="#fff" stroke-width="1.6" fill="none" stroke-linecap="round"/>
<path d="M1762 712C1763.2 708.8 1765.5 708.8 1768 709C1770.5 709.2 1774.8 710.3 1777 713C1779.2 715.7 1780 720.2 1781 725C1782 729.8 1782.5 735 1783 742C1783.5 749 1787.2 763 1784 767C1780.8 771 1766 768.5 1764 766C1762 763.5 1771.7 756 1772 752C1772.3 748 1767.8 746 1766 742C1764.2 738 1761.7 733 1761 728C1760.3 723 1760.8 715.2 1762 712Z" fill="#1B20D8" stroke="#000" stroke-width="2.6" stroke-linejoin="round" />
<path d="M1753 770C1754.7 767.3 1758.8 766.5 1764 766C1769.2 765.5 1780.3 764.3 1784 767C1787.7 769.7 1786.7 778.5 1786 782C1785.3 785.5 1784.3 786.7 1780 788C1775.7 789.3 1764.3 791 1760 790C1755.7 789 1755.2 785.3 1754 782C1752.8 778.7 1751.3 772.7 1753 770Z" fill="#1B20D8" stroke="#000" stroke-width="2.4" stroke-linejoin="round" />
<path d="M1762 770C1762.7 772.7 1765.3 783.3 1766 786" fill="none" stroke="#000" stroke-width="1.8" stroke-linecap="round" stroke-linejoin="round" />
<path d="M1772 768C1772.3 771.2 1773.7 783.8 1774 787" fill="none" stroke="#000" stroke-width="1.8" stroke-linecap="round" stroke-linejoin="round" />
<path d="M1754 788C1755.5 781.3 1762 779.3 1764 790C1766 800.7 1767 841 1766 852C1765 863 1759.8 859.7 1758 856C1756.2 852.3 1755.7 841.3 1755 830C1754.3 818.7 1752.5 794.7 1754 788Z" fill="#1B20D8" stroke="none" stroke-width="0" stroke-linejoin="round" />
<path d="M1777 788C1778.3 780.3 1784 778.7 1786 784C1788 789.3 1788.5 808 1789 820C1789.5 832 1790.5 849.7 1789 856C1787.5 862.3 1781.8 862.3 1780 858C1778.2 853.7 1778.5 841.7 1778 830C1777.5 818.3 1775.7 795.7 1777 788Z" fill="#1B20D8" stroke="none" stroke-width="0" stroke-linejoin="round" />
<path d="M1754 790C1753.7 800 1752.3 840 1752 850" fill="none" stroke="#000" stroke-width="1.8" stroke-linecap="round" stroke-linejoin="round" />
<path d="M1764 792C1764.3 805 1765.7 857 1766 870" fill="none" stroke="#000" stroke-width="1.8" stroke-linecap="round" stroke-linejoin="round" />
<path d="M1760 800C1760.3 807.7 1761.7 838.3 1762 846" fill="none" stroke="#000" stroke-width="1.4" stroke-linecap="round" stroke-linejoin="round" />
<path d="M1777 790C1777.3 800.3 1778.7 841.7 1779 852" fill="none" stroke="#000" stroke-width="1.8" stroke-linecap="round" stroke-linejoin="round" />
<path d="M1787 788C1787.5 798.3 1789.5 839.7 1790 850" fill="none" stroke="#000" stroke-width="2.4" stroke-linecap="round" stroke-linejoin="round" />
<path d="M1706 860C1706.3 858.2 1709.3 854.7 1712 854C1714.7 853.3 1718.2 855.8 1722 856C1725.8 856.2 1730.3 856.2 1735 855C1739.7 853.8 1745.8 850 1750 849C1754.2 848 1755 849 1760 849C1765 849 1774.8 848.2 1780 849C1785.2 849.8 1790 851.3 1791 854C1792 856.7 1788.7 861.5 1786 865C1783.3 868.5 1779.3 872.2 1775 875C1770.7 877.8 1765.7 880 1760 882C1754.3 884 1746 886.2 1741 887C1736 887.8 1734.2 888 1730 887C1725.8 886 1717.8 883.8 1716 881C1714.2 878.2 1720 872.7 1719 870C1718 867.3 1712.2 866.7 1710 865C1707.8 863.3 1705.7 861.8 1706 860Z" fill="#3FFFD2" stroke="none" stroke-width="0" stroke-linejoin="round" />
<path d="M1701 862C1701.5 861 1702.8 857.8 1704 856C1705.2 854.2 1706.7 851.7 1708 851C1709.3 850.3 1710.5 851.3 1712 852C1713.5 852.7 1714.7 855 1717 855C1719.3 855 1723 852.5 1726 852C1729 851.5 1732.2 852.3 1735 852C1737.8 851.7 1740.5 850.8 1743 850C1745.5 849.2 1748.8 847.5 1750 847" fill="none" stroke="#000" stroke-width="2.6" stroke-linecap="round" stroke-linejoin="round" />
<path d="M1707 859C1707.8 859.3 1710 860 1712 861C1714 862 1716 864.2 1719 865C1722 865.8 1727.3 866.7 1730 866C1732.7 865.3 1733.2 861.8 1735 861C1736.8 860.2 1739 860.8 1741 861C1743 861.2 1744.3 862.7 1747 862C1749.7 861.3 1755.3 857.8 1757 857" fill="none" stroke="#000" stroke-width="2.6" stroke-linecap="round" stroke-linejoin="round" />
<path d="M1715 869C1714.5 870 1712.8 873 1712 875C1711.2 877 1709.5 880.7 1710 881C1710.5 881.3 1713.3 877.8 1715 877C1716.7 876.2 1719.2 876.2 1720 876" fill="none" stroke="#000" stroke-width="2.6" stroke-linecap="round" stroke-linejoin="round" />
<path d="M1722 886C1722.3 885 1723.3 881.8 1724 880C1724.7 878.2 1724.3 876.5 1726 875C1727.7 873.5 1731.7 871 1734 871C1736.3 871 1737.8 876 1740 875C1742.2 874 1744.5 866.7 1747 865C1749.5 863.3 1752.2 865.5 1755 865C1757.8 864.5 1762.5 862.5 1764 862" fill="none" stroke="#000" stroke-width="2.6" stroke-linecap="round" stroke-linejoin="round" />
<path d="M1722 886C1722.8 885.3 1724.5 882.2 1727 882C1729.5 881.8 1733.7 885.8 1737 885C1740.3 884.2 1744 878.3 1747 877C1750 875.7 1751.8 876.5 1755 877C1758.2 877.5 1764.2 881 1766 880C1767.8 879 1766 872.5 1766 871" fill="none" stroke="#000" stroke-width="2.6" stroke-linecap="round" stroke-linejoin="round" />
<path d="M1786 855C1785.7 856.7 1785.7 862.2 1784 865C1782.3 867.8 1778.5 870.3 1776 872C1773.5 873.7 1770.2 874.5 1769 875" fill="none" stroke="#000" stroke-width="2.6" stroke-linecap="round" stroke-linejoin="round" />
<path d="M1762 856C1763.2 857.7 1767.8 864.3 1769 866" fill="none" stroke="#000" stroke-width="2.6" stroke-linecap="round" stroke-linejoin="round" />
<path d="M1777 847C1775 848.2 1767 852.8 1765 854" fill="none" stroke="#000" stroke-width="2.2" stroke-linecap="round" stroke-linejoin="round" />
</g>
<g id="human">
<g filter="url(#b1)" fill="none" stroke-linecap="round">
<path d="M373 182C372.7 179.7 371.2 173 371 168C370.8 163 371.3 157.3 372 152C372.7 146.7 373.5 140.8 375 136C376.5 131.2 378.7 126.7 381 123C383.3 119.3 386.2 116.3 389 114C391.8 111.7 393.3 110.7 398 109C402.7 107.3 412.3 104.8 417 104C421.7 103.2 424.5 104 426 104" fill="none" stroke="#3a3a3a" stroke-width="2.9" stroke-linecap="round" stroke-linejoin="round" />
<path d="M376 150C377 146.3 379.3 133.7 382 128C384.7 122.3 388 119.3 392 116C396 112.7 401.3 109.8 406 108C410.7 106.2 414.8 104.8 420 105C425.2 105.2 432 106.2 437 109C442 111.8 446.5 116.8 450 122C453.5 127.2 456 133.7 458 140C460 146.3 461.7 154.7 462 160C462.3 165.3 461.2 168.7 460 172C458.8 175.3 457 178 455 180C453 182 449.2 183.3 448 184" fill="none" stroke="#6a6a6a" stroke-width="2.6" stroke-linecap="round" stroke-linejoin="round" />
<path d="M387 170C386.8 171.7 386.5 176.7 386 180C385.5 183.3 384.3 188.3 384 190" fill="none" stroke="#3a3a3a" stroke-width="3.2" stroke-linecap="round" stroke-linejoin="round" />
<path d="M384 191C385.3 192 389 195.3 392 197C395 198.7 400.3 200.3 402 201" fill="none" stroke="#3a3a3a" stroke-width="3" stroke-linecap="round" stroke-linejoin="round" />
<path d="M389 204C389.3 205.3 390.2 209.7 391 212C391.8 214.3 391.8 216.8 394 218C396.2 219.2 400.3 219 404 219C407.7 219 412 219 416 218C420 217 424.5 214.5 428 213C431.5 211.5 434.8 210.7 437 209C439.2 207.3 440.5 205.8 441 203C441.5 200.2 440.5 195.7 440 192C439.5 188.3 438.3 182.8 438 181" fill="none" stroke="#3a3a3a" stroke-width="2.9" stroke-linecap="round" stroke-linejoin="round" />
<path d="M378 161C379 160.8 382.3 159.2 384 160C385.7 160.8 387.3 165 388 166" fill="none" stroke="#3a3a3a" stroke-width="2" stroke-linecap="round" stroke-linejoin="round" />
<path d="M383 155C382.7 156.7 380.5 162.8 381 165C381.5 167.2 385.2 167.5 386 168" fill="none" stroke="#6a6a6a" stroke-width="1.4" stroke-linecap="round" stroke-linejoin="round" />
<path d="M398 164C398.7 163.3 400 160.5 402 160C404 159.5 407.3 160 410 161C412.7 162 416.3 163.8 418 166C419.7 168.2 419.7 172.7 420 174" fill="none" stroke="#3a3a3a" stroke-width="2.2" stroke-linecap="round" stroke-linejoin="round" />
<path d="M402 164C402.3 165.3 403 171.7 404 172C405 172.3 407.3 167 408 166" fill="none" stroke="#6a6a6a" stroke-width="1.4" stroke-linecap="round" stroke-linejoin="round" />
<path d="M424 178C425 177.8 427.8 177 430 177C432.2 177 435.8 177.8 437 178" fill="none" stroke="#3a3a3a" stroke-width="3.2" stroke-linecap="round" stroke-linejoin="round" />
<path d="M424 178C423.5 179.3 421.7 183.3 421 186C420.3 188.7 420.2 192.7 420 194" fill="none" stroke="#6a6a6a" stroke-width="1.6" stroke-linecap="round" stroke-linejoin="round" />
<path d="M437 172C437.8 171.7 440.8 171 442 170C443.2 169 443.7 166.7 444 166" fill="none" stroke="#6a6a6a" stroke-width="1.2" stroke-linecap="round" stroke-linejoin="round" />
<path d="M388 170C389.3 171.7 393.7 177.7 396 180C398.3 182.3 401 183.3 402 184" fill="none" stroke="#6a6a6a" stroke-width="1.2" stroke-linecap="round" stroke-linejoin="round" />
</g>
<g filter="url(#b2)" fill="none" stroke-linecap="round" opacity="0.55">
<path d="M368 180C367.7 176.7 365.7 166.7 366 160C366.3 153.3 369.3 143.3 370 140" fill="none" stroke="#888" stroke-width="4" stroke-linecap="round" stroke-linejoin="round" />
<path d="M400 168C402 167.3 408.7 163.3 412 164C415.3 164.7 418.7 170.7 420 172" fill="none" stroke="#999" stroke-width="5" stroke-linecap="round" stroke-linejoin="round" />
<path d="M424 180C426 180 434 180 436 180" fill="none" stroke="#888" stroke-width="5" stroke-linecap="round" stroke-linejoin="round" />
<path d="M382 162C383 162.3 387 163.7 388 164" fill="none" stroke="#999" stroke-width="4" stroke-linecap="round" stroke-linejoin="round" />
<path d="M452 182C453.3 180.3 458.7 173.7 460 172" fill="none" stroke="#aaa" stroke-width="4" stroke-linecap="round" stroke-linejoin="round" />
</g>
<g filter="url(#b1)" fill="none" stroke-linecap="round">
<path d="M409 221C409.5 222.8 411.2 228 412 232C412.8 236 413.7 242.8 414 245" fill="none" stroke="#3a3a3a" stroke-width="2.7" stroke-linecap="round" stroke-linejoin="round" />
<path d="M414 232C414.3 235 416 245 416 250C416 255 414.3 260 414 262" fill="none" stroke="#6a6a6a" stroke-width="1.89" stroke-linecap="round" stroke-linejoin="round" />
<path d="M407 243C405.5 244.3 400.8 248.5 398 251C395.2 253.5 391.3 256.8 390 258" fill="none" stroke="#3a3a3a" stroke-width="3.24" stroke-linecap="round" stroke-linejoin="round" />
<path d="M430 243C432 243.7 438.3 245.7 442 247C445.7 248.3 450.3 250.3 452 251" fill="none" stroke="#6a6a6a" stroke-width="2.16" stroke-linecap="round" stroke-linejoin="round" />
<path d="M320 266C324.2 265.3 336.7 263.2 345 262C353.3 260.8 362.2 259.7 370 259C377.8 258.3 388.3 258.2 392 258" fill="none" stroke="#3a3a3a" stroke-width="3.5100000000000002" stroke-linecap="round" stroke-linejoin="round" />
<path d="M411 267C412.5 266.8 416.5 266.7 420 266C423.5 265.3 430 263.5 432 263" fill="none" stroke="#3a3a3a" stroke-width="3.5100000000000002" stroke-linecap="round" stroke-linejoin="round" />
<path d="M432 264C435.8 263 447 259.5 455 258C463 256.5 471.5 255.3 480 255C488.5 254.7 501.7 255.8 506 256" fill="none" stroke="#6a6a6a" stroke-width="3.24" stroke-linecap="round" stroke-linejoin="round" />
<path d="M436 268C440 267 451.8 263.3 460 262C468.2 260.7 478.3 260 485 260C491.7 260 497.5 261.7 500 262" fill="none" stroke="#6a6a6a" stroke-width="2.43" stroke-linecap="round" stroke-linejoin="round" />
<path d="M440 262C445 260.7 460.8 255.3 470 254C479.2 252.7 488 253.3 495 254C502 254.7 509.2 257.3 512 258" fill="none" stroke="#999" stroke-width="2.16" stroke-linecap="round" stroke-linejoin="round" />
<ellipse cx="423" cy="276" rx="13" ry="9.5" stroke="#6a6a6a" stroke-width="1.8" transform="rotate(-12 423 276)"/>
<path d="M450 272C450.3 275.8 451.3 287 452 295C452.7 303 452.7 314.5 454 320C455.3 325.5 457.8 326.3 460 328C462.2 329.7 464.3 331 467 330C469.7 329 473 325.7 476 322C479 318.3 481.7 312.7 485 308C488.3 303.3 493.2 297.3 496 294C498.8 290.7 501 289 502 288" fill="none" stroke="#6a6a6a" stroke-width="2.7" stroke-linecap="round" stroke-linejoin="round" />
<path d="M453 280C453.5 282.7 455.5 293.3 456 296" fill="none" stroke="#999" stroke-width="1.89" stroke-linecap="round" stroke-linejoin="round" />
<path d="M470 268C471.7 268.3 478.3 269.7 480 270" fill="none" stroke="#999" stroke-width="1.89" stroke-linecap="round" stroke-linejoin="round" />
<path d="M412 290C412.2 295 412.7 309.7 413 320C413.3 330.3 413.7 343.3 414 352C414.3 360.7 414.8 368.7 415 372" fill="none" stroke="#3a3a3a" stroke-width="2.43" stroke-linecap="round" stroke-linejoin="round" />
<path d="M424 290C424.2 295 424.7 310 425 320C425.3 330 425.7 341.3 426 350C426.3 358.7 426.8 368.3 427 372" fill="none" stroke="#6a6a6a" stroke-width="2.43" stroke-linecap="round" stroke-linejoin="round" />
<path d="M398 287C400.3 287 409.7 287 412 287" fill="none" stroke="#6a6a6a" stroke-width="2.16" stroke-linecap="round" stroke-linejoin="round" />
<path d="M392 301C393.7 300.3 398.7 298.3 402 297C405.3 295.7 410.3 293.7 412 293" fill="none" stroke="#3a3a3a" stroke-width="2.295" stroke-linecap="round" stroke-linejoin="round" />
<path d="M392 311C393.7 310.3 398.7 308.3 402 307C405.3 305.7 410.3 303.7 412 303" fill="none" stroke="#3a3a3a" stroke-width="2.295" stroke-linecap="round" stroke-linejoin="round" />
<path d="M392 323C393.7 322.3 398.7 320.3 402 319C405.3 317.7 410.3 315.7 412 315" fill="none" stroke="#3a3a3a" stroke-width="2.295" stroke-linecap="round" stroke-linejoin="round" />
<path d="M392 333C393.7 332.3 398.7 330.3 402 329C405.3 327.7 410.3 325.7 412 325" fill="none" stroke="#3a3a3a" stroke-width="2.295" stroke-linecap="round" stroke-linejoin="round" />
<path d="M392 343C393.7 342.3 398.7 340.3 402 339C405.3 337.7 410.3 335.7 412 335" fill="none" stroke="#3a3a3a" stroke-width="2.295" stroke-linecap="round" stroke-linejoin="round" />
<path d="M392 351C393.7 350.3 398.7 348.3 402 347C405.3 345.7 410.3 343.7 412 343" fill="none" stroke="#3a3a3a" stroke-width="2.295" stroke-linecap="round" stroke-linejoin="round" />
<path d="M360 346C359.8 348.3 358.8 355 359 360C359.2 365 360.8 370.7 361 376C361.2 381.3 359.8 386.7 360 392C360.2 397.3 361 404 362 408C363 412 363.8 413.8 366 416C368.2 418.2 372 420.3 375 421C378 421.7 382.5 420.2 384 420" fill="none" stroke="#6a6a6a" stroke-width="2.43" stroke-linecap="round" stroke-linejoin="round" />
<path d="M362 352C363.7 354 368.3 361 372 364C375.7 367 380 370.3 384 370C388 369.7 391.7 366 396 362C400.3 358 407.7 348.7 410 346" fill="none" stroke="#6a6a6a" stroke-width="2.16" stroke-linecap="round" stroke-linejoin="round" />
<path d="M362 366C363.7 368 368.7 375.3 372 378C375.3 380.7 380.3 381.3 382 382" fill="none" stroke="#6a6a6a" stroke-width="2.16" stroke-linecap="round" stroke-linejoin="round" />
<path d="M361 382C362.5 383.7 367.2 389.8 370 392C372.8 394.2 376.7 394.5 378 395" fill="none" stroke="#6a6a6a" stroke-width="2.16" stroke-linecap="round" stroke-linejoin="round" />
<path d="M362 398C363 399 366 402.7 368 404C370 405.3 373 405.7 374 406" fill="none" stroke="#6a6a6a" stroke-width="2.16" stroke-linecap="round" stroke-linejoin="round" />
<path d="M388 357C389.7 355.8 394.2 352.2 398 350C401.8 347.8 408.8 345 411 344" fill="none" stroke="#3a3a3a" stroke-width="2.43" stroke-linecap="round" stroke-linejoin="round" />
<path d="M385 374C386.7 372.7 391.8 368 395 366C398.2 364 402.5 362.7 404 362" fill="none" stroke="#6a6a6a" stroke-width="2.43" stroke-linecap="round" stroke-linejoin="round" />
<path d="M384 388C385 386.7 387.7 382 390 380C392.3 378 395.7 377 398 376C400.3 375 403 374.3 404 374" fill="none" stroke="#3a3a3a" stroke-width="2.43" stroke-linecap="round" stroke-linejoin="round" />
<path d="M380 404C381 402.3 383.7 396.7 386 394C388.3 391.3 391.3 389.3 394 388C396.7 386.7 400.7 386.3 402 386" fill="none" stroke="#3a3a3a" stroke-width="2.43" stroke-linecap="round" stroke-linejoin="round" />
<path d="M389 418C388.8 416.3 387.2 411 388 408C388.8 405 391.3 402 394 400C396.7 398 400 397 404 396C408 395 413.7 394.5 418 394C422.3 393.5 428 393.2 430 393" fill="none" stroke="#6a6a6a" stroke-width="2.43" stroke-linecap="round" stroke-linejoin="round" />
<path d="M414 394C414 397.3 414 410.7 414 414" fill="none" stroke="#6a6a6a" stroke-width="1.89" stroke-linecap="round" stroke-linejoin="round" />
<path d="M409 425C410.8 425.5 415.3 426.8 420 428C424.7 429.2 434.2 431.3 437 432" fill="none" stroke="#111" stroke-width="3.24" stroke-linecap="round" stroke-linejoin="round" />
<path d="M414 414C415.3 413.7 419.3 411.7 422 412C424.7 412.3 428.7 415.3 430 416" fill="none" stroke="#6a6a6a" stroke-width="2.16" stroke-linecap="round" stroke-linejoin="round" />
<path d="M406 426C405.5 427.7 403.3 433 403 436C402.7 439 403.8 442.7 404 444" fill="none" stroke="#6a6a6a" stroke-width="2.16" stroke-linecap="round" stroke-linejoin="round" />
<path d="M398 452C399.7 451.7 405.7 449.3 408 450C410.3 450.7 411.7 453.3 412 456C412.3 458.7 410.7 463.3 410 466C409.3 468.7 408.3 471 408 472" fill="none" stroke="#6a6a6a" stroke-width="2.16" stroke-linecap="round" stroke-linejoin="round" />
<path d="M408 452C408.7 453 412 455.7 412 458C412 460.3 408 463.3 408 466C408 468.7 412 471.3 412 474C412 476.7 408 479 408 482C408 485 412 489 412 492C412 495 408.3 497.3 408 500C407.7 502.7 409.7 506.7 410 508" fill="none" stroke="#3a3a3a" stroke-width="2.16" stroke-linecap="round" stroke-linejoin="round" />
</g>
<g filter="url(#b2)" fill="none" stroke-linecap="round" opacity="0.5">
<path d="M364 350C363.7 355 362 370 362 380C362 390 361.7 402.7 364 410C366.3 417.3 374 421.7 376 424" fill="none" stroke="#aaa" stroke-width="5" stroke-linecap="round" stroke-linejoin="round" />
<path d="M388 362C390.3 360.3 399.7 353.7 402 352" fill="none" stroke="#999" stroke-width="6.75" stroke-linecap="round" stroke-linejoin="round" />
<path d="M436 262C441.7 261 458.5 256.7 470 256C481.5 255.3 499.2 257.7 505 258" fill="none" stroke="#aaa" stroke-width="5" stroke-linecap="round" stroke-linejoin="round" />
<path d="M414 250C414.3 252 415.7 260 416 262" fill="none" stroke="#aaa" stroke-width="5" stroke-linecap="round" stroke-linejoin="round" />
<path d="M346 466C348.7 464.7 355.7 458.7 362 458C368.3 457.3 378 459.3 384 462C390 464.7 395.7 472 398 474" fill="none" stroke="#aaa" stroke-width="6" stroke-linecap="round" stroke-linejoin="round" />
<path d="M378 548C379.2 551 380.7 563.7 385 566C389.3 568.3 400.8 562.7 404 562" fill="none" stroke="#aaa" stroke-width="7" stroke-linecap="round" stroke-linejoin="round" />
<path d="M340 540C340 543.3 340 556.7 340 560" fill="none" stroke="#bbb" stroke-width="5" stroke-linecap="round" stroke-linejoin="round" />
</g>
<path d="M330 266L335 261L370 260L402 262L410 267L408 273L398 275L396 295L390 318L380 338L372 342L362 332L352 311L346 288L345 271L332 270Z" fill="#FF4B00" stroke="none" stroke-width="0" stroke-linejoin="round" />
<g filter="url(#b1)">
<path d="M322 266C325.8 265.3 337 263.2 345 262C353 260.8 362.2 259.5 370 259C377.8 258.5 388.3 259 392 259" fill="none" stroke="#222" stroke-width="3.24" stroke-linecap="round" stroke-linejoin="round" />
<path d="M345 272C349.5 271.7 363.2 270.2 372 270C380.8 269.8 391.8 271 398 271C404.2 271 407.2 270.2 409 270" fill="none" stroke="#7a1d00" stroke-width="1.6" stroke-linecap="round" stroke-linejoin="round" />
<path d="M380 270C379.7 272.3 379.3 279 378 284C376.7 289 373.7 294.7 372 300C370.3 305.3 368.3 311.7 368 316C367.7 320.3 369.7 324.3 370 326" fill="none" stroke="#8a2500" stroke-width="1.5" stroke-linecap="round" stroke-linejoin="round" />
<path d="M380 282C381 283.3 385 288.7 386 290" fill="none" stroke="#8a2500" stroke-width="1.3" stroke-linecap="round" stroke-linejoin="round" />
<path d="M374 300C375 301 379 305 380 306" fill="none" stroke="#8a2500" stroke-width="1.3" stroke-linecap="round" stroke-linejoin="round" />
<path d="M397 276C396.7 279.3 396.3 289 395 296C393.7 303 391.5 311 389 318C386.5 325 381.5 334.7 380 338" fill="none" stroke="#5a1500" stroke-width="2.16" stroke-linecap="round" stroke-linejoin="round" />
</g>
<path d="M325 272L327 270L334 272L340 279L338 297L329 326L322 351L316 376L310 399L306 420L306 432L308 445L298 447L287 445L286 432L292 418L297 399L303 376L309 351L313 332L321 295Z" fill="#35FF00" stroke="none" stroke-width="0" stroke-linejoin="round" />
<g filter="url(#b1)">
<path d="M325 272C324.3 275.8 323 285 321 295C319 305 315 322.7 313 332C311 341.3 310.7 343.7 309 351C307.3 358.3 305 368 303 376C301 384 298.8 392 297 399C295.2 406 294 412.5 292 418C290 423.5 286.2 429.7 285 432" fill="none" stroke="#333" stroke-width="2.43" stroke-linecap="round" stroke-linejoin="round" />
<path d="M338 297C336.5 301.8 331.7 317 329 326C326.3 335 324.2 342.7 322 351C319.8 359.3 318 368 316 376C314 384 311.7 391.7 310 399C308.3 406.3 306.7 416.5 306 420" fill="none" stroke="#333" stroke-width="2.16" stroke-linecap="round" stroke-linejoin="round" />
</g>
<path d="M287 448 L244 541" stroke="#F000FF" stroke-width="9" stroke-linecap="round"/>
<path d="M300 449 L256.5 542" stroke="#F000FF" stroke-width="9.5" stroke-linecap="round"/>
<g filter="url(#b1)">
<path d="M281 448C277.8 455 267.8 477.7 262 490C256.2 502.3 250 513.7 246 522C242 530.3 239.3 537 238 540" fill="none" stroke="#333" stroke-width="2.16" stroke-linecap="round" stroke-linejoin="round" />
<path d="M293 450C289.5 457.7 278.8 481 272 496C265.2 511 255.3 532.7 252 540" fill="none" stroke="#222" stroke-width="2.43" stroke-linecap="round" stroke-linejoin="round" />
<path d="M295 452C291.5 460 280.5 485.3 274 500C267.5 514.7 259 533.3 256 540" fill="none" stroke="#666" stroke-width="1.2" stroke-linecap="round" stroke-linejoin="round" />
<path d="M306 452C302.7 459.3 293 481.3 286 496C279 510.7 267.7 532.7 264 540" fill="none" stroke="#333" stroke-width="2.16" stroke-linecap="round" stroke-linejoin="round" />
</g>
<path d="M221 572 L201 595" stroke="#22EBC0" stroke-width="9" stroke-linecap="round"/>
<path d="M226 580 L221 625" stroke="#22EBC0" stroke-width="8" stroke-linecap="round"/>
<path d="M235 585 L236 626" stroke="#22EBC0" stroke-width="9" stroke-linecap="round"/>
<path d="M246 585 L249 626" stroke="#22EBC0" stroke-width="9" stroke-linecap="round"/>
<path d="M255 583 L262 623" stroke="#22EBC0" stroke-width="7.5" stroke-linecap="round"/>
<g filter="url(#b1)">
<path d="M214 570C211.3 573.7 200.7 588.3 198 592" fill="none" stroke="#222" stroke-width="2.0250000000000004" stroke-linecap="round" stroke-linejoin="round" />
<path d="M221 584C220.5 591 218.5 619 218 626" fill="none" stroke="#222" stroke-width="2.0250000000000004" stroke-linecap="round" stroke-linejoin="round" />
<path d="M230 588C230.2 595 230.8 623 231 630" fill="none" stroke="#222" stroke-width="2.0250000000000004" stroke-linecap="round" stroke-linejoin="round" />
<path d="M241 588C241.3 595 242.7 623 243 630" fill="none" stroke="#222" stroke-width="2.0250000000000004" stroke-linecap="round" stroke-linejoin="round" />
<path d="M251 586C251.8 593 255.2 621 256 628" fill="none" stroke="#222" stroke-width="2.0250000000000004" stroke-linecap="round" stroke-linejoin="round" />
<path d="M259 582C259.5 585 261.5 597 262 600" fill="none" stroke="#222" stroke-width="2.0250000000000004" stroke-linecap="round" stroke-linejoin="round" />
<path d="M225 600C224.8 603.3 224.2 616.7 224 620" fill="none" stroke="#222" stroke-width="2.0250000000000004" stroke-linecap="round" stroke-linejoin="round" />
<path d="M238 602C238.2 605.3 238.8 618.7 239 622" fill="none" stroke="#222" stroke-width="2.0250000000000004" stroke-linecap="round" stroke-linejoin="round" />
<path d="M248 600C248.5 603.3 250.5 616.7 251 620" fill="none" stroke="#222" stroke-width="2.0250000000000004" stroke-linecap="round" stroke-linejoin="round" />
<path d="M205 590C206.2 588.3 210.8 581.7 212 580" fill="none" stroke="#222" stroke-width="2.0250000000000004" stroke-linecap="round" stroke-linejoin="round" />
</g>
<circle cx="241" cy="561" r="16" fill="#2226DE" filter="url(#b1)"/>
<path d="M343 475C343.8 472.3 345.8 468.2 349 466C352.2 463.8 356.8 462 362 462C367.2 462 374.5 463.8 380 466C385.5 468.2 391.7 471 395 475C398.3 479 399.2 485 400 490C400.8 495 399.2 500.8 400 505C400.8 509.2 402.7 511.7 405 515C407.3 518.3 412.5 520.8 414 525C415.5 529.2 415.5 535.5 414 540C412.5 544.5 408.7 548.8 405 552C401.3 555.2 396.2 557.8 392 559C387.8 560.2 382.8 560.5 380 559C377.2 557.5 375.8 552.8 375 550C374.2 547.2 376.7 544.3 375 542C373.3 539.7 367.5 538.5 365 536C362.5 533.5 360.8 531.3 360 527C359.2 522.7 361.3 515.3 360 510C358.7 504.7 354.7 499.7 352 495C349.3 490.3 345.5 485.3 344 482C342.5 478.7 342.2 477.7 343 475Z" fill="#FF4B00" stroke="none" stroke-width="0" stroke-linejoin="round" />
<g filter="url(#b1)">
<path d="M343 478C344 476.2 345.8 469.7 349 467C352.2 464.3 356.8 462.2 362 462C367.2 461.8 377 465.3 380 466" fill="none" stroke="#4a1200" stroke-width="2.7" stroke-linecap="round" stroke-linejoin="round" />
<path d="M358 478C358.7 476.7 359.7 471.7 362 470C364.3 468.3 370.3 468.3 372 468" fill="none" stroke="#7a1d00" stroke-width="1.5" stroke-linecap="round" stroke-linejoin="round" />
<path d="M360 482C361.3 485 365.3 494.3 368 500C370.7 505.7 374 511 376 516C378 521 379.3 527.7 380 530" fill="none" stroke="#7a1d00" stroke-width="1.5" stroke-linecap="round" stroke-linejoin="round" />
<path d="M344 482C345.3 484.3 349.3 491.3 352 496C354.7 500.7 358.7 504.7 360 510C361.3 515.3 359 523.5 360 528C361 532.5 365 535.5 366 537" fill="none" stroke="#5a1500" stroke-width="2.43" stroke-linecap="round" stroke-linejoin="round" />
<path d="M398 480C397.7 482.5 395.7 490 396 495C396.3 500 398 505.8 400 510C402 514.2 406.7 518.3 408 520" fill="none" stroke="#5a1500" stroke-width="2.43" stroke-linecap="round" stroke-linejoin="round" />
<path d="M366 518C367 520.7 370.7 529.7 372 534C373.3 538.3 373.7 542.3 374 544" fill="none" stroke="#111" stroke-width="2.43" stroke-linecap="round" stroke-linejoin="round" />
<path d="M366 537C367.7 537.5 372.7 540.5 376 540C379.3 539.5 383 536 386 534C389 532 392.7 529 394 528" fill="none" stroke="#111" stroke-width="2.7" stroke-linecap="round" stroke-linejoin="round" />
<path d="M384 518C385 519.7 387.3 525.3 390 528C392.7 530.7 397.3 532.3 400 534C402.7 535.7 405 537.3 406 538" fill="none" stroke="#111" stroke-width="3.24" stroke-linecap="round" stroke-linejoin="round" />
<path d="M376 546C377.3 547 380.7 551.3 384 552C387.3 552.7 392.7 551.7 396 550C399.3 548.3 402.7 543.3 404 542" fill="none" stroke="#4a1200" stroke-width="2.43" stroke-linecap="round" stroke-linejoin="round" />
<path d="M376 552C377.3 553 380.7 557.3 384 558C387.3 558.7 394 556.3 396 556" fill="none" stroke="#4a1200" stroke-width="2.16" stroke-linecap="round" stroke-linejoin="round" />
</g>
<path d="M344 535C344.8 530 347.8 530.5 350 530C352.2 529.5 354.7 529.5 357 532C359.3 534.5 362.7 536.2 364 545C365.3 553.8 364 572.5 365 585C366 597.5 368 607.5 370 620C372 632.5 374.5 648.3 377 660C379.5 671.7 382.5 680.5 385 690C387.5 699.5 389.5 710.3 392 717C394.5 723.7 397.7 726.2 400 730C402.3 733.8 405.2 736.7 406 740C406.8 743.3 406.8 747.3 405 750C403.2 752.7 399.2 754.8 395 756C390.8 757.2 383.8 757.7 380 757C376.2 756.3 373.8 754.8 372 752C370.2 749.2 368.3 745 369 740C369.7 735 375.5 728.7 376 722C376.5 715.3 374.7 712 372 700C369.3 688 363.7 666.7 360 650C356.3 633.3 352.5 615 350 600C347.5 585 346 570.8 345 560C344 549.2 343.2 540 344 535Z" fill="#35FF00" stroke="none" stroke-width="0" stroke-linejoin="round" />
<g filter="url(#b1)">
<path d="M344 538C344.2 541.7 344 549.7 345 560C346 570.3 347.5 585 350 600C352.5 615 356.3 633.3 360 650C363.7 666.7 369.3 688 372 700C374.7 712 376.3 715.7 376 722C375.7 728.3 371 735.3 370 738" fill="none" stroke="#222" stroke-width="2.43" stroke-linecap="round" stroke-linejoin="round" />
<path d="M364 546C364.2 552.5 364 572.7 365 585C366 597.3 368 607.5 370 620C372 632.5 374.5 648.3 377 660C379.5 671.7 382.5 680.5 385 690C387.5 699.5 389.2 710 392 717C394.8 724 400.3 729.5 402 732" fill="none" stroke="#222" stroke-width="2.43" stroke-linecap="round" stroke-linejoin="round" />
<path d="M386 740C386.7 739 388 734.7 390 734C392 733.3 396.3 734 398 736C399.7 738 400.7 743.3 400 746C399.3 748.7 396.2 751.7 394 752C391.8 752.3 388.3 750 387 748C385.7 746 386.2 741.3 386 740" fill="none" stroke="#1d6b00" stroke-width="1.5" stroke-linecap="round" stroke-linejoin="round" />
<path d="M372 752C373.3 752.8 376.2 756.3 380 757C383.8 757.7 390.8 757.2 395 756C399.2 754.8 403.3 751 405 750" fill="none" stroke="#222" stroke-width="2.16" stroke-linecap="round" stroke-linejoin="round" />
</g>
<path d="M373 764L401 762L405 785L412 835L415 885L420 935L427 958L426 968L404 966L400 935L392 885L382 835L376 785Z" fill="#F000FF" stroke="none" stroke-width="0" stroke-linejoin="round" />
<path d="M385 800 Q392 840 400 892 Q390 850 385 800Z" fill="#fff" stroke="#fff" stroke-width="1.5"/>
<g filter="url(#b1)">
<path d="M373 766C373.5 769.2 374.5 773.5 376 785C377.5 796.5 379.3 818.3 382 835C384.7 851.7 389 868.3 392 885C395 901.7 398 921.8 400 935C402 948.2 403.3 959.2 404 964" fill="none" stroke="#222" stroke-width="2.43" stroke-linecap="round" stroke-linejoin="round" />
<path d="M402 764C402.5 767.5 403.3 773.2 405 785C406.7 796.8 410.3 818.3 412 835C413.7 851.7 413.7 868.3 415 885C416.3 901.7 418 922.8 420 935C422 947.2 425.8 954.2 427 958" fill="none" stroke="#222" stroke-width="2.43" stroke-linecap="round" stroke-linejoin="round" />
<path d="M383 790C383.8 796.7 385.8 815 388 830C390.2 845 393.7 863.3 396 880C398.3 896.7 399.7 917 402 930C404.3 943 408.7 953.3 410 958" fill="none" stroke="#660066" stroke-width="1.5" stroke-linecap="round" stroke-linejoin="round" />
<path d="M380 780C381 783.3 384 788.3 386 800C388 811.7 391 841.7 392 850" fill="none" stroke="#660066" stroke-width="1.3" stroke-linecap="round" stroke-linejoin="round" />
</g>
<path d="M370 988C370.7 985.3 375.7 983 380 982C384.3 981 393 979.7 396 982C399 984.3 399.3 993 398 996C396.7 999 391.7 999.7 388 1000C384.3 1000.3 379 1000 376 998C373 996 369.3 990.7 370 988Z" fill="#22EBC0" stroke="none" stroke-width="0" stroke-linejoin="round" />
<g filter="url(#b1)">
<path d="M368 988C370 986.7 375.7 982.3 380 980C384.3 977.7 391.7 975 394 974" fill="none" stroke="#333" stroke-width="2.16" stroke-linecap="round" stroke-linejoin="round" />
<path d="M378 986C378.3 988 379.7 996 380 998" fill="none" stroke="#222" stroke-width="2.0250000000000004" stroke-linecap="round" stroke-linejoin="round" />
<path d="M386 984C386.2 986.5 386.8 996.5 387 999" fill="none" stroke="#222" stroke-width="2.0250000000000004" stroke-linecap="round" stroke-linejoin="round" />
<path d="M380 986C382 985.7 390 984.3 392 984" fill="none" stroke="#222" stroke-width="1.62" stroke-linecap="round" stroke-linejoin="round" />
</g>
<path d="M396 975C396.8 972 399 969.5 402 968C405 966.5 410.3 965.7 414 966C417.7 966.3 421.7 967.3 424 970C426.3 972.7 428 978.3 428 982C428 985.7 426.7 989.7 424 992C421.3 994.3 415.7 995.7 412 996C408.3 996.3 404.5 995.7 402 994C399.5 992.3 398 989.2 397 986C396 982.8 395.2 978 396 975Z" fill="#1B20D8" stroke="none" stroke-width="0" stroke-linejoin="round" filter="url(#b1)"/>
<path d="M80 229.5L324 229.5L330 240L338 253" fill="none" stroke="#FF4B00" stroke-width="3" stroke-linecap="round" stroke-linejoin="round"/>
<path d="M76 298L308 298" fill="none" stroke="#44F511" stroke-width="3" stroke-linecap="round" stroke-linejoin="round"/>
<path d="M75 404.5L225 404.5L257 470" fill="none" stroke="#F000FF" stroke-width="3" stroke-linecap="round" stroke-linejoin="round"/>
<path d="M151 497L216 497L225.5 545" fill="none" stroke="#2433EE" stroke-width="3" stroke-linecap="round" stroke-linejoin="round"/>
<path d="M76 541L182 541L201 577" fill="none" stroke="#22EBC0" stroke-width="3.4" stroke-linecap="round" stroke-linejoin="round"/>
<path d="M413 549.5L421 559L578 559" fill="none" stroke="#FF4B00" stroke-width="3" stroke-linecap="round" stroke-linejoin="round"/>
<path d="M388 664L575 664" fill="none" stroke="#44F511" stroke-width="3" stroke-linecap="round" stroke-linejoin="round"/>
<path d="M418 841L577 841" fill="none" stroke="#F000FF" stroke-width="3" stroke-linecap="round" stroke-linejoin="round"/>
<path d="M433 979L447 971L513 971" fill="none" stroke="#1B25C0" stroke-width="3" stroke-linecap="round" stroke-linejoin="round"/>
<path d="M391 1004L397.5 1011L575 1011" fill="none" stroke="#30F0D0" stroke-width="3" stroke-linecap="round" stroke-linejoin="round"/>
<text x="236.5" y="74" font-size="50" textLength="181" lengthAdjust="spacingAndGlyphs" text-anchor="start" stroke="#000" stroke-width="1.1" stroke-linejoin="round">Humain</text>
<text x="75" y="221" font-size="29" textLength="89" lengthAdjust="spacingAndGlyphs" text-anchor="start" >Épaule</text>
<text x="75" y="290" font-size="28" textLength="60" lengthAdjust="spacingAndGlyphs" text-anchor="start" >Bras</text>
<text x="73" y="395" font-size="29" textLength="160" lengthAdjust="spacingAndGlyphs" text-anchor="start" >Avant-bras</text>
<text x="75" y="497.5" font-size="27.5" textLength="66" lengthAdjust="spacingAndGlyphs" text-anchor="start" >Main</text>
<text x="75" y="533" font-size="27.5" textLength="84" lengthAdjust="spacingAndGlyphs" text-anchor="start" >Doigts</text>
<text x="479" y="554.5" font-size="28" textLength="100" lengthAdjust="spacingAndGlyphs" text-anchor="start" >Hanche</text>
<text x="499" y="658.5" font-size="29" textLength="79" lengthAdjust="spacingAndGlyphs" text-anchor="start" >Cuisse</text>
<text x="504" y="832.5" font-size="28" textLength="75" lengthAdjust="spacingAndGlyphs" text-anchor="start" >Molet</text>
<text x="521" y="970" font-size="27" textLength="57" lengthAdjust="spacingAndGlyphs" text-anchor="start" >Pied</text>
<text x="489" y="1005" font-size="28" textLength="90" lengthAdjust="spacingAndGlyphs" text-anchor="start" >Orteils</text>
</g>
</svg>
</body></html>
